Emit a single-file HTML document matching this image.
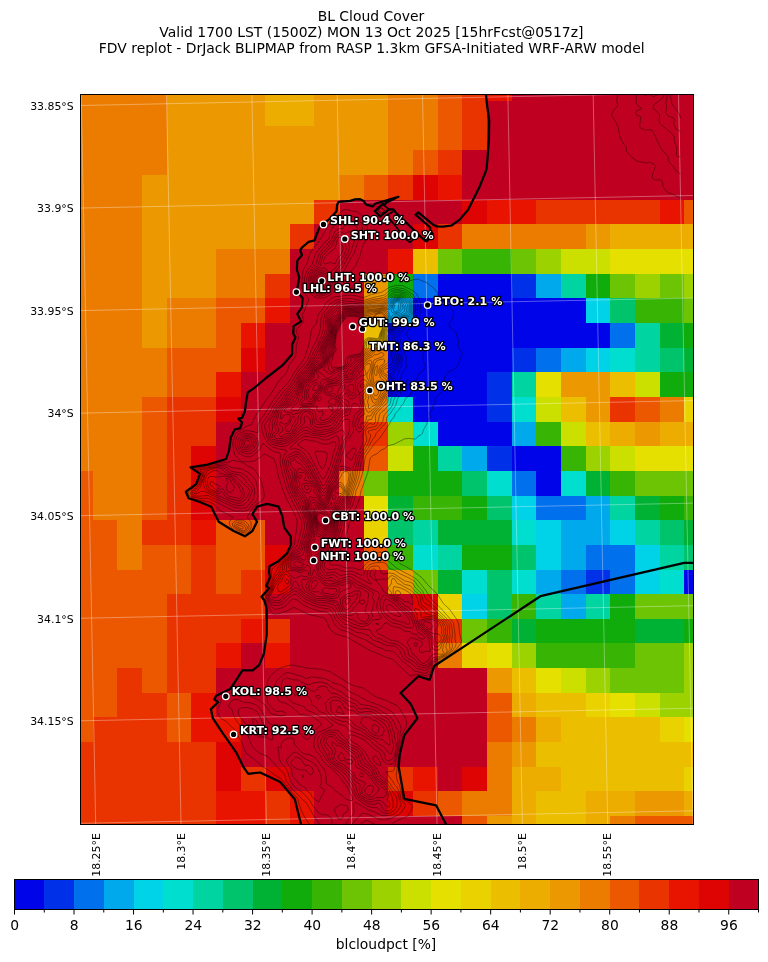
<!DOCTYPE html>
<html><head><meta charset="utf-8"><title>BL Cloud Cover</title>
<style>
html,body{margin:0;padding:0;background:#fff}
body{width:768px;height:962px;overflow:hidden;font-family:"DejaVu Sans","Liberation Sans",sans-serif}
svg{display:block}
text{font-family:"DejaVu Sans","Liberation Sans",sans-serif;fill:#000}
.t{font-size:13.93px;text-anchor:middle}
.yl{font-size:10.9px;text-anchor:end}
.xl{font-size:10.9px;text-anchor:end}
.cb{font-size:13.89px;text-anchor:middle}
.st{font-size:11.11px;font-weight:bold;fill:#fff;stroke:#000;stroke-width:2.6px;paint-order:stroke fill;stroke-linejoin:round}
</style></head><body>
<svg width="768" height="962" viewBox="0 0 768 962">
<rect width="768" height="962" fill="#fff"/>
<defs><clipPath id="ax"><rect x="81" y="95" width="612" height="729"/></clipPath></defs>

<g clip-path="url(#ax)"><g shape-rendering="crispEdges">
<rect x="68" y="76" width="99" height="25" fill="#ec7c00"/>
<rect x="167" y="76" width="98" height="25" fill="#ec9800"/>
<rect x="265" y="76" width="49" height="25" fill="#ecac00"/>
<rect x="314" y="76" width="74" height="25" fill="#ec9800"/>
<rect x="388" y="76" width="50" height="25" fill="#ec7c00"/>
<rect x="438" y="76" width="24" height="25" fill="#ec5800"/>
<rect x="462" y="76" width="25" height="25" fill="#ea3400"/>
<rect x="487" y="76" width="25" height="25" fill="#e81400"/>
<rect x="512" y="76" width="197" height="25" fill="#c00020"/>
<rect x="68" y="101" width="99" height="25" fill="#ec7c00"/>
<rect x="167" y="101" width="98" height="25" fill="#ec9800"/>
<rect x="265" y="101" width="49" height="25" fill="#ecac00"/>
<rect x="314" y="101" width="74" height="25" fill="#ec9800"/>
<rect x="388" y="101" width="50" height="25" fill="#ec7c00"/>
<rect x="438" y="101" width="24" height="25" fill="#ec5800"/>
<rect x="462" y="101" width="25" height="25" fill="#ea3400"/>
<rect x="487" y="101" width="222" height="25" fill="#c00020"/>
<rect x="68" y="126" width="99" height="24" fill="#ec7c00"/>
<rect x="167" y="126" width="221" height="24" fill="#ec9800"/>
<rect x="388" y="126" width="50" height="24" fill="#ec7c00"/>
<rect x="438" y="126" width="24" height="24" fill="#ec5800"/>
<rect x="462" y="126" width="25" height="24" fill="#ea3400"/>
<rect x="487" y="126" width="222" height="24" fill="#c00020"/>
<rect x="68" y="150" width="99" height="25" fill="#ec7c00"/>
<rect x="167" y="150" width="221" height="25" fill="#ec9800"/>
<rect x="388" y="150" width="25" height="25" fill="#ec7c00"/>
<rect x="413" y="150" width="25" height="25" fill="#ec5800"/>
<rect x="438" y="150" width="24" height="25" fill="#ea3400"/>
<rect x="462" y="150" width="247" height="25" fill="#c00020"/>
<rect x="68" y="175" width="74" height="25" fill="#ec7c00"/>
<rect x="142" y="175" width="197" height="25" fill="#ec9800"/>
<rect x="339" y="175" width="25" height="25" fill="#ec7c00"/>
<rect x="364" y="175" width="24" height="25" fill="#ec5800"/>
<rect x="388" y="175" width="25" height="25" fill="#ea3400"/>
<rect x="413" y="175" width="25" height="25" fill="#de0404"/>
<rect x="438" y="175" width="24" height="25" fill="#e81400"/>
<rect x="462" y="175" width="247" height="25" fill="#c00020"/>
<rect x="68" y="200" width="74" height="24" fill="#ec7c00"/>
<rect x="142" y="200" width="172" height="24" fill="#ec9800"/>
<rect x="314" y="200" width="25" height="24" fill="#ea3400"/>
<rect x="339" y="200" width="123" height="24" fill="#c00020"/>
<rect x="462" y="200" width="25" height="24" fill="#de0404"/>
<rect x="487" y="200" width="49" height="24" fill="#e81400"/>
<rect x="536" y="200" width="124" height="24" fill="#ea3400"/>
<rect x="660" y="200" width="24" height="24" fill="#e81400"/>
<rect x="684" y="200" width="25" height="24" fill="#ec5800"/>
<rect x="68" y="224" width="74" height="25" fill="#ec7c00"/>
<rect x="142" y="224" width="148" height="25" fill="#ec9800"/>
<rect x="290" y="224" width="24" height="25" fill="#ea3400"/>
<rect x="314" y="224" width="99" height="25" fill="#c00020"/>
<rect x="413" y="224" width="25" height="25" fill="#de0404"/>
<rect x="438" y="224" width="24" height="25" fill="#ea3400"/>
<rect x="462" y="224" width="124" height="25" fill="#ec7c00"/>
<rect x="586" y="224" width="24" height="25" fill="#ec9800"/>
<rect x="610" y="224" width="99" height="25" fill="#ecac00"/>
<rect x="68" y="249" width="74" height="25" fill="#ec7c00"/>
<rect x="142" y="249" width="74" height="25" fill="#ec9800"/>
<rect x="216" y="249" width="74" height="25" fill="#ec7c00"/>
<rect x="290" y="249" width="98" height="25" fill="#c00020"/>
<rect x="388" y="249" width="25" height="25" fill="#e81400"/>
<rect x="413" y="249" width="25" height="25" fill="#ecbe00"/>
<rect x="438" y="249" width="24" height="25" fill="#6cc404"/>
<rect x="462" y="249" width="50" height="25" fill="#38b404"/>
<rect x="512" y="249" width="24" height="25" fill="#6cc404"/>
<rect x="536" y="249" width="25" height="25" fill="#9cd200"/>
<rect x="561" y="249" width="49" height="25" fill="#cce000"/>
<rect x="610" y="249" width="99" height="25" fill="#e6e000"/>
<rect x="68" y="274" width="74" height="24" fill="#ec7c00"/>
<rect x="142" y="274" width="74" height="24" fill="#ec9800"/>
<rect x="216" y="274" width="49" height="24" fill="#ec7c00"/>
<rect x="265" y="274" width="25" height="24" fill="#ea3400"/>
<rect x="290" y="274" width="74" height="24" fill="#c00020"/>
<rect x="364" y="274" width="24" height="24" fill="#ec9800"/>
<rect x="388" y="274" width="25" height="24" fill="#10ac0c"/>
<rect x="413" y="274" width="25" height="24" fill="#0070ec"/>
<rect x="438" y="274" width="74" height="24" fill="#0004e8"/>
<rect x="512" y="274" width="24" height="24" fill="#0030e8"/>
<rect x="536" y="274" width="25" height="24" fill="#00a8ec"/>
<rect x="561" y="274" width="25" height="24" fill="#00d4a0"/>
<rect x="586" y="274" width="24" height="24" fill="#10ac0c"/>
<rect x="610" y="274" width="25" height="24" fill="#6cc404"/>
<rect x="635" y="274" width="25" height="24" fill="#9cd200"/>
<rect x="660" y="274" width="24" height="24" fill="#6cc404"/>
<rect x="684" y="274" width="25" height="24" fill="#9cd200"/>
<rect x="68" y="298" width="74" height="25" fill="#ec7c00"/>
<rect x="142" y="298" width="25" height="25" fill="#ec9800"/>
<rect x="167" y="298" width="49" height="25" fill="#ec7c00"/>
<rect x="216" y="298" width="49" height="25" fill="#ec5800"/>
<rect x="265" y="298" width="25" height="25" fill="#e81400"/>
<rect x="290" y="298" width="74" height="25" fill="#c00020"/>
<rect x="364" y="298" width="24" height="25" fill="#ec7c00"/>
<rect x="388" y="298" width="25" height="25" fill="#00a8ec"/>
<rect x="413" y="298" width="173" height="25" fill="#0004e8"/>
<rect x="586" y="298" width="24" height="25" fill="#00d2e8"/>
<rect x="610" y="298" width="25" height="25" fill="#00c46c"/>
<rect x="635" y="298" width="49" height="25" fill="#38b404"/>
<rect x="684" y="298" width="25" height="25" fill="#6cc404"/>
<rect x="68" y="323" width="74" height="25" fill="#ec7c00"/>
<rect x="142" y="323" width="25" height="25" fill="#ec9800"/>
<rect x="167" y="323" width="49" height="25" fill="#ec7c00"/>
<rect x="216" y="323" width="25" height="25" fill="#ec5800"/>
<rect x="241" y="323" width="24" height="25" fill="#e81400"/>
<rect x="265" y="323" width="99" height="25" fill="#c00020"/>
<rect x="364" y="323" width="24" height="25" fill="#ecbe00"/>
<rect x="388" y="323" width="222" height="25" fill="#0004e8"/>
<rect x="610" y="323" width="25" height="25" fill="#0070ec"/>
<rect x="635" y="323" width="25" height="25" fill="#00d4a0"/>
<rect x="660" y="323" width="24" height="25" fill="#00b234"/>
<rect x="684" y="323" width="25" height="25" fill="#10ac0c"/>
<rect x="68" y="348" width="99" height="24" fill="#ec7c00"/>
<rect x="167" y="348" width="74" height="24" fill="#ec5800"/>
<rect x="241" y="348" width="24" height="24" fill="#de0404"/>
<rect x="265" y="348" width="99" height="24" fill="#c00020"/>
<rect x="364" y="348" width="24" height="24" fill="#ec7c00"/>
<rect x="388" y="348" width="124" height="24" fill="#0004e8"/>
<rect x="512" y="348" width="24" height="24" fill="#0030e8"/>
<rect x="536" y="348" width="25" height="24" fill="#0070ec"/>
<rect x="561" y="348" width="25" height="24" fill="#00a8ec"/>
<rect x="586" y="348" width="24" height="24" fill="#00d2e8"/>
<rect x="610" y="348" width="25" height="24" fill="#00ded0"/>
<rect x="635" y="348" width="25" height="24" fill="#00d4a0"/>
<rect x="660" y="348" width="24" height="24" fill="#00c46c"/>
<rect x="684" y="348" width="25" height="24" fill="#00b234"/>
<rect x="68" y="372" width="99" height="25" fill="#ec7c00"/>
<rect x="167" y="372" width="49" height="25" fill="#ec5800"/>
<rect x="216" y="372" width="25" height="25" fill="#e81400"/>
<rect x="241" y="372" width="123" height="25" fill="#c00020"/>
<rect x="364" y="372" width="24" height="25" fill="#ec7c00"/>
<rect x="388" y="372" width="99" height="25" fill="#0004e8"/>
<rect x="487" y="372" width="25" height="25" fill="#0030e8"/>
<rect x="512" y="372" width="24" height="25" fill="#00d4a0"/>
<rect x="536" y="372" width="25" height="25" fill="#e6e000"/>
<rect x="561" y="372" width="49" height="25" fill="#ec9800"/>
<rect x="610" y="372" width="25" height="25" fill="#ecbe00"/>
<rect x="635" y="372" width="25" height="25" fill="#cce000"/>
<rect x="660" y="372" width="49" height="25" fill="#10ac0c"/>
<rect x="68" y="397" width="74" height="25" fill="#ec7c00"/>
<rect x="142" y="397" width="25" height="25" fill="#ec5800"/>
<rect x="167" y="397" width="49" height="25" fill="#ea3400"/>
<rect x="216" y="397" width="25" height="25" fill="#de0404"/>
<rect x="241" y="397" width="123" height="25" fill="#c00020"/>
<rect x="364" y="397" width="24" height="25" fill="#ec7c00"/>
<rect x="388" y="397" width="25" height="25" fill="#00ded0"/>
<rect x="413" y="397" width="74" height="25" fill="#0004e8"/>
<rect x="487" y="397" width="25" height="25" fill="#0030e8"/>
<rect x="512" y="397" width="24" height="25" fill="#00ded0"/>
<rect x="536" y="397" width="25" height="25" fill="#cce000"/>
<rect x="561" y="397" width="25" height="25" fill="#ecbe00"/>
<rect x="586" y="397" width="24" height="25" fill="#ec9800"/>
<rect x="610" y="397" width="25" height="25" fill="#ea3400"/>
<rect x="635" y="397" width="25" height="25" fill="#ec5800"/>
<rect x="660" y="397" width="24" height="25" fill="#ec7c00"/>
<rect x="684" y="397" width="25" height="25" fill="#ead200"/>
<rect x="68" y="422" width="74" height="24" fill="#ec7c00"/>
<rect x="142" y="422" width="25" height="24" fill="#ec5800"/>
<rect x="167" y="422" width="49" height="24" fill="#ea3400"/>
<rect x="216" y="422" width="148" height="24" fill="#c00020"/>
<rect x="364" y="422" width="24" height="24" fill="#ea3400"/>
<rect x="388" y="422" width="25" height="24" fill="#9cd200"/>
<rect x="413" y="422" width="25" height="24" fill="#00ded0"/>
<rect x="438" y="422" width="74" height="24" fill="#0004e8"/>
<rect x="512" y="422" width="24" height="24" fill="#00a8ec"/>
<rect x="536" y="422" width="25" height="24" fill="#38b404"/>
<rect x="561" y="422" width="25" height="24" fill="#cce000"/>
<rect x="586" y="422" width="24" height="24" fill="#ecbe00"/>
<rect x="610" y="422" width="25" height="24" fill="#ecac00"/>
<rect x="635" y="422" width="25" height="24" fill="#ec9800"/>
<rect x="660" y="422" width="49" height="24" fill="#ecac00"/>
<rect x="68" y="446" width="74" height="25" fill="#ec7c00"/>
<rect x="142" y="446" width="25" height="25" fill="#ec5800"/>
<rect x="167" y="446" width="24" height="25" fill="#ea3400"/>
<rect x="191" y="446" width="25" height="25" fill="#de0404"/>
<rect x="216" y="446" width="148" height="25" fill="#c00020"/>
<rect x="364" y="446" width="24" height="25" fill="#ec5800"/>
<rect x="388" y="446" width="25" height="25" fill="#cce000"/>
<rect x="413" y="446" width="25" height="25" fill="#10ac0c"/>
<rect x="438" y="446" width="24" height="25" fill="#00d4a0"/>
<rect x="462" y="446" width="25" height="25" fill="#00a8ec"/>
<rect x="487" y="446" width="25" height="25" fill="#0030e8"/>
<rect x="512" y="446" width="49" height="25" fill="#0004e8"/>
<rect x="561" y="446" width="25" height="25" fill="#38b404"/>
<rect x="586" y="446" width="24" height="25" fill="#9cd200"/>
<rect x="610" y="446" width="25" height="25" fill="#cce000"/>
<rect x="635" y="446" width="74" height="25" fill="#e6e000"/>
<rect x="68" y="471" width="25" height="25" fill="#ec5800"/>
<rect x="93" y="471" width="49" height="25" fill="#ec7c00"/>
<rect x="142" y="471" width="25" height="25" fill="#ec5800"/>
<rect x="167" y="471" width="24" height="25" fill="#ea3400"/>
<rect x="191" y="471" width="25" height="25" fill="#de0404"/>
<rect x="216" y="471" width="123" height="25" fill="#c00020"/>
<rect x="339" y="471" width="25" height="25" fill="#ec7c00"/>
<rect x="364" y="471" width="24" height="25" fill="#6cc404"/>
<rect x="388" y="471" width="74" height="25" fill="#10ac0c"/>
<rect x="462" y="471" width="25" height="25" fill="#00c46c"/>
<rect x="487" y="471" width="25" height="25" fill="#00ded0"/>
<rect x="512" y="471" width="24" height="25" fill="#0070ec"/>
<rect x="536" y="471" width="25" height="25" fill="#0004e8"/>
<rect x="561" y="471" width="25" height="25" fill="#00ded0"/>
<rect x="586" y="471" width="24" height="25" fill="#00b234"/>
<rect x="610" y="471" width="25" height="25" fill="#38b404"/>
<rect x="635" y="471" width="74" height="25" fill="#6cc404"/>
<rect x="68" y="496" width="25" height="24" fill="#ec5800"/>
<rect x="93" y="496" width="49" height="24" fill="#ec7c00"/>
<rect x="142" y="496" width="25" height="24" fill="#ec5800"/>
<rect x="167" y="496" width="24" height="24" fill="#ea3400"/>
<rect x="191" y="496" width="25" height="24" fill="#de0404"/>
<rect x="216" y="496" width="148" height="24" fill="#c00020"/>
<rect x="364" y="496" width="24" height="24" fill="#e6e000"/>
<rect x="388" y="496" width="25" height="24" fill="#00b234"/>
<rect x="413" y="496" width="49" height="24" fill="#38b404"/>
<rect x="462" y="496" width="25" height="24" fill="#10ac0c"/>
<rect x="487" y="496" width="25" height="24" fill="#00c46c"/>
<rect x="512" y="496" width="24" height="24" fill="#00d2e8"/>
<rect x="536" y="496" width="50" height="24" fill="#0070ec"/>
<rect x="586" y="496" width="24" height="24" fill="#00a8ec"/>
<rect x="610" y="496" width="25" height="24" fill="#00d4a0"/>
<rect x="635" y="496" width="25" height="24" fill="#00b234"/>
<rect x="660" y="496" width="24" height="24" fill="#10ac0c"/>
<rect x="684" y="496" width="25" height="24" fill="#38b404"/>
<rect x="68" y="520" width="49" height="25" fill="#ec5800"/>
<rect x="117" y="520" width="25" height="25" fill="#ec7c00"/>
<rect x="142" y="520" width="49" height="25" fill="#ea3400"/>
<rect x="191" y="520" width="25" height="25" fill="#e81400"/>
<rect x="216" y="520" width="49" height="25" fill="#ec5800"/>
<rect x="265" y="520" width="99" height="25" fill="#c00020"/>
<rect x="364" y="520" width="24" height="25" fill="#ead200"/>
<rect x="388" y="520" width="25" height="25" fill="#00c46c"/>
<rect x="413" y="520" width="25" height="25" fill="#00d4a0"/>
<rect x="438" y="520" width="74" height="25" fill="#00b234"/>
<rect x="512" y="520" width="24" height="25" fill="#00ded0"/>
<rect x="536" y="520" width="25" height="25" fill="#00d2e8"/>
<rect x="561" y="520" width="49" height="25" fill="#00a8ec"/>
<rect x="610" y="520" width="25" height="25" fill="#00d2e8"/>
<rect x="635" y="520" width="25" height="25" fill="#00d4a0"/>
<rect x="660" y="520" width="24" height="25" fill="#00c46c"/>
<rect x="684" y="520" width="25" height="25" fill="#00b234"/>
<rect x="68" y="545" width="49" height="25" fill="#ec5800"/>
<rect x="117" y="545" width="25" height="25" fill="#ec7c00"/>
<rect x="142" y="545" width="49" height="25" fill="#ec5800"/>
<rect x="191" y="545" width="25" height="25" fill="#ea3400"/>
<rect x="216" y="545" width="49" height="25" fill="#ec5800"/>
<rect x="265" y="545" width="25" height="25" fill="#de0404"/>
<rect x="290" y="545" width="74" height="25" fill="#c00020"/>
<rect x="364" y="545" width="24" height="25" fill="#ec5800"/>
<rect x="388" y="545" width="25" height="25" fill="#38b404"/>
<rect x="413" y="545" width="25" height="25" fill="#00ded0"/>
<rect x="438" y="545" width="24" height="25" fill="#00d4a0"/>
<rect x="462" y="545" width="50" height="25" fill="#10ac0c"/>
<rect x="512" y="545" width="24" height="25" fill="#00c46c"/>
<rect x="536" y="545" width="25" height="25" fill="#00d2e8"/>
<rect x="561" y="545" width="25" height="25" fill="#00a8ec"/>
<rect x="586" y="545" width="49" height="25" fill="#0070ec"/>
<rect x="635" y="545" width="25" height="25" fill="#00d2e8"/>
<rect x="660" y="545" width="24" height="25" fill="#00d4a0"/>
<rect x="684" y="545" width="25" height="25" fill="#00c46c"/>
<rect x="68" y="570" width="123" height="24" fill="#ec5800"/>
<rect x="191" y="570" width="25" height="24" fill="#ea3400"/>
<rect x="216" y="570" width="25" height="24" fill="#ec5800"/>
<rect x="241" y="570" width="24" height="24" fill="#ea3400"/>
<rect x="265" y="570" width="25" height="24" fill="#de0404"/>
<rect x="290" y="570" width="98" height="24" fill="#c00020"/>
<rect x="388" y="570" width="25" height="24" fill="#ec9800"/>
<rect x="413" y="570" width="25" height="24" fill="#6cc404"/>
<rect x="438" y="570" width="24" height="24" fill="#00b234"/>
<rect x="462" y="570" width="25" height="24" fill="#00ded0"/>
<rect x="487" y="570" width="25" height="24" fill="#00c46c"/>
<rect x="512" y="570" width="24" height="24" fill="#00ded0"/>
<rect x="536" y="570" width="25" height="24" fill="#00a8ec"/>
<rect x="561" y="570" width="25" height="24" fill="#0070ec"/>
<rect x="586" y="570" width="24" height="24" fill="#0030e8"/>
<rect x="610" y="570" width="25" height="24" fill="#0070ec"/>
<rect x="635" y="570" width="25" height="24" fill="#00d2e8"/>
<rect x="660" y="570" width="24" height="24" fill="#00ded0"/>
<rect x="684" y="570" width="25" height="24" fill="#0004e8"/>
<rect x="68" y="594" width="99" height="25" fill="#ec5800"/>
<rect x="167" y="594" width="98" height="25" fill="#ea3400"/>
<rect x="265" y="594" width="148" height="25" fill="#c00020"/>
<rect x="413" y="594" width="25" height="25" fill="#de0404"/>
<rect x="438" y="594" width="24" height="25" fill="#ead200"/>
<rect x="462" y="594" width="25" height="25" fill="#00d2e8"/>
<rect x="487" y="594" width="25" height="25" fill="#00c46c"/>
<rect x="512" y="594" width="24" height="25" fill="#38b404"/>
<rect x="536" y="594" width="25" height="25" fill="#00d4a0"/>
<rect x="561" y="594" width="25" height="25" fill="#00a8ec"/>
<rect x="586" y="594" width="24" height="25" fill="#00d4a0"/>
<rect x="610" y="594" width="25" height="25" fill="#10ac0c"/>
<rect x="635" y="594" width="74" height="25" fill="#6cc404"/>
<rect x="68" y="619" width="99" height="24" fill="#ec5800"/>
<rect x="167" y="619" width="74" height="24" fill="#ea3400"/>
<rect x="241" y="619" width="24" height="24" fill="#e81400"/>
<rect x="265" y="619" width="25" height="24" fill="#ea3400"/>
<rect x="290" y="619" width="148" height="24" fill="#c00020"/>
<rect x="438" y="619" width="24" height="24" fill="#ea3400"/>
<rect x="462" y="619" width="25" height="24" fill="#6cc404"/>
<rect x="487" y="619" width="25" height="24" fill="#38b404"/>
<rect x="512" y="619" width="24" height="24" fill="#00b234"/>
<rect x="536" y="619" width="99" height="24" fill="#10ac0c"/>
<rect x="635" y="619" width="49" height="24" fill="#00b234"/>
<rect x="684" y="619" width="25" height="24" fill="#10ac0c"/>
<rect x="68" y="643" width="99" height="25" fill="#ec5800"/>
<rect x="167" y="643" width="49" height="25" fill="#ea3400"/>
<rect x="216" y="643" width="25" height="25" fill="#e81400"/>
<rect x="241" y="643" width="24" height="25" fill="#c00020"/>
<rect x="265" y="643" width="25" height="25" fill="#e81400"/>
<rect x="290" y="643" width="148" height="25" fill="#c00020"/>
<rect x="438" y="643" width="24" height="25" fill="#ec7c00"/>
<rect x="462" y="643" width="25" height="25" fill="#ead200"/>
<rect x="487" y="643" width="25" height="25" fill="#e6e000"/>
<rect x="512" y="643" width="24" height="25" fill="#9cd200"/>
<rect x="536" y="643" width="99" height="25" fill="#38b404"/>
<rect x="635" y="643" width="49" height="25" fill="#6cc404"/>
<rect x="684" y="643" width="25" height="25" fill="#9cd200"/>
<rect x="68" y="668" width="49" height="25" fill="#ec5800"/>
<rect x="117" y="668" width="25" height="25" fill="#ea3400"/>
<rect x="142" y="668" width="25" height="25" fill="#ec5800"/>
<rect x="167" y="668" width="49" height="25" fill="#ea3400"/>
<rect x="216" y="668" width="271" height="25" fill="#c00020"/>
<rect x="487" y="668" width="25" height="25" fill="#ec9800"/>
<rect x="512" y="668" width="24" height="25" fill="#ecbe00"/>
<rect x="536" y="668" width="25" height="25" fill="#e6e000"/>
<rect x="561" y="668" width="25" height="25" fill="#cce000"/>
<rect x="586" y="668" width="24" height="25" fill="#9cd200"/>
<rect x="610" y="668" width="74" height="25" fill="#6cc404"/>
<rect x="684" y="668" width="25" height="25" fill="#9cd200"/>
<rect x="68" y="693" width="49" height="24" fill="#ec5800"/>
<rect x="117" y="693" width="50" height="24" fill="#ea3400"/>
<rect x="167" y="693" width="24" height="24" fill="#ec5800"/>
<rect x="191" y="693" width="25" height="24" fill="#e81400"/>
<rect x="216" y="693" width="271" height="24" fill="#c00020"/>
<rect x="487" y="693" width="25" height="24" fill="#ec5800"/>
<rect x="512" y="693" width="24" height="24" fill="#ecac00"/>
<rect x="536" y="693" width="50" height="24" fill="#ecbe00"/>
<rect x="586" y="693" width="24" height="24" fill="#ead200"/>
<rect x="610" y="693" width="25" height="24" fill="#e6e000"/>
<rect x="635" y="693" width="25" height="24" fill="#cce000"/>
<rect x="660" y="693" width="49" height="24" fill="#9cd200"/>
<rect x="68" y="717" width="25" height="25" fill="#ec5800"/>
<rect x="93" y="717" width="74" height="25" fill="#ea3400"/>
<rect x="167" y="717" width="24" height="25" fill="#ec5800"/>
<rect x="191" y="717" width="50" height="25" fill="#e81400"/>
<rect x="241" y="717" width="246" height="25" fill="#c00020"/>
<rect x="487" y="717" width="25" height="25" fill="#ec5800"/>
<rect x="512" y="717" width="24" height="25" fill="#ec7c00"/>
<rect x="536" y="717" width="25" height="25" fill="#ecac00"/>
<rect x="561" y="717" width="99" height="25" fill="#ecbe00"/>
<rect x="660" y="717" width="24" height="25" fill="#ead200"/>
<rect x="684" y="717" width="25" height="25" fill="#e6e000"/>
<rect x="68" y="742" width="148" height="25" fill="#ea3400"/>
<rect x="216" y="742" width="25" height="25" fill="#de0404"/>
<rect x="241" y="742" width="246" height="25" fill="#c00020"/>
<rect x="487" y="742" width="25" height="25" fill="#ec7c00"/>
<rect x="512" y="742" width="24" height="25" fill="#ec9800"/>
<rect x="536" y="742" width="173" height="25" fill="#ecbe00"/>
<rect x="68" y="767" width="148" height="24" fill="#ea3400"/>
<rect x="216" y="767" width="25" height="24" fill="#de0404"/>
<rect x="241" y="767" width="24" height="24" fill="#ea3400"/>
<rect x="265" y="767" width="25" height="24" fill="#de0404"/>
<rect x="290" y="767" width="98" height="24" fill="#c00020"/>
<rect x="388" y="767" width="25" height="24" fill="#ea3400"/>
<rect x="413" y="767" width="25" height="24" fill="#e81400"/>
<rect x="438" y="767" width="24" height="24" fill="#c00020"/>
<rect x="462" y="767" width="25" height="24" fill="#de0404"/>
<rect x="487" y="767" width="25" height="24" fill="#ec7c00"/>
<rect x="512" y="767" width="49" height="24" fill="#ecac00"/>
<rect x="561" y="767" width="123" height="24" fill="#ecbe00"/>
<rect x="684" y="767" width="25" height="24" fill="#ead200"/>
<rect x="68" y="791" width="148" height="25" fill="#ea3400"/>
<rect x="216" y="791" width="49" height="25" fill="#e81400"/>
<rect x="265" y="791" width="25" height="25" fill="#ea3400"/>
<rect x="290" y="791" width="24" height="25" fill="#e81400"/>
<rect x="314" y="791" width="74" height="25" fill="#c00020"/>
<rect x="388" y="791" width="25" height="25" fill="#de0404"/>
<rect x="413" y="791" width="25" height="25" fill="#ea3400"/>
<rect x="438" y="791" width="24" height="25" fill="#ec5800"/>
<rect x="462" y="791" width="50" height="25" fill="#ec7c00"/>
<rect x="512" y="791" width="24" height="25" fill="#ecac00"/>
<rect x="536" y="791" width="50" height="25" fill="#ecbe00"/>
<rect x="586" y="791" width="49" height="25" fill="#ecac00"/>
<rect x="635" y="791" width="49" height="25" fill="#ec9800"/>
<rect x="684" y="791" width="25" height="25" fill="#ecac00"/>
<rect x="68" y="816" width="148" height="25" fill="#ea3400"/>
<rect x="216" y="816" width="49" height="25" fill="#e81400"/>
<rect x="265" y="816" width="25" height="25" fill="#ea3400"/>
<rect x="290" y="816" width="24" height="25" fill="#e81400"/>
<rect x="314" y="816" width="148" height="25" fill="#c00020"/>
<rect x="462" y="816" width="25" height="25" fill="#ec5800"/>
<rect x="487" y="816" width="25" height="25" fill="#ec9800"/>
<rect x="512" y="816" width="24" height="25" fill="#ecac00"/>
<rect x="536" y="816" width="50" height="25" fill="#ecbe00"/>
<rect x="586" y="816" width="24" height="25" fill="#ecac00"/>
<rect x="610" y="816" width="25" height="25" fill="#ec7c00"/>
<rect x="635" y="816" width="74" height="25" fill="#ec5800"/>
</g>
<g stroke="#fff" stroke-opacity="0.45" stroke-width="0.75" fill="none">
<line x1="81.20" y1="94.5" x2="95.70" y2="824.5"/>
<line x1="166.53" y1="94.5" x2="181.04" y2="824.5"/>
<line x1="251.86" y1="94.5" x2="266.38" y2="824.5"/>
<line x1="337.19" y1="94.5" x2="351.72" y2="824.5"/>
<line x1="422.52" y1="94.5" x2="437.06" y2="824.5"/>
<line x1="507.85" y1="94.5" x2="522.40" y2="824.5"/>
<line x1="593.18" y1="94.5" x2="607.74" y2="824.5"/>
<line x1="678.51" y1="94.5" x2="693.08" y2="824.5"/>
<line x1="80.5" y1="105.50" x2="693.5" y2="92.93"/>
<line x1="80.5" y1="208.05" x2="693.5" y2="195.48"/>
<line x1="80.5" y1="310.60" x2="693.5" y2="298.03"/>
<line x1="80.5" y1="413.15" x2="693.5" y2="400.58"/>
<line x1="80.5" y1="515.70" x2="693.5" y2="503.13"/>
<line x1="80.5" y1="618.25" x2="693.5" y2="605.68"/>
<line x1="80.5" y1="720.80" x2="693.5" y2="708.23"/>
<line x1="80.5" y1="823.35" x2="693.5" y2="810.78"/>
<line x1="80.5" y1="925.90" x2="693.5" y2="913.33"/>
</g>
<path fill="none" stroke="#000" stroke-opacity="0.7" stroke-width="0.55" d="M680.5 197.5l-4.5-1.3 -3-2.2 -4.5-1.1 -1.1-.9 -3.4-3.3 -1-2.7 -.5-4.3 -1.5-1.3 -1.5-.6 -4.5 .1 -2.4-1.4 -.3-1.5 1-6 2.4-4.5 -.7-1.5 -4.5-2.7 -4.5 .6 -9-1.8 -5-3.6 -5.4-6 -.4-1.5 .4-3 -3.1-3 -2-3 -2-6 -1.2-7.5 -2.8-6 -3.8-6 .1-1.5 1.2-2.7 1.5-2.5 2.7-2.3 .5-1.5 -1-4.5 .7-6 -3.5-4.5M427.0 676.2l-4.5-1.2 -6-.4 -6 1.3 -1.5-.9 -13.5-13.2 -3-2.3 -2-1 -4-.9 -16.5-7.2 -22.4-12.9 -12.1-3.7 -4.7-3.8 -1.9-3 -2.4-6.1 -1.5-2 -1.5-1.1 -13.5-3.2 -6-2.1 -9-4.8 -1.5-.2 -7.5 3.8 -7.5 2.5 -4.5 .1 -1.5-.4 -1.2-1.5 -1.8-3.9 -1.7-2.1 -1.3-4.5 -3.1-4.5 4.6-6 .1-1.5 1.4-1.5 -1-1.5 -.1-3 3.2-6 -.5-4.5 1.3-4.5 7.6-5.9 9-9.6 .9-2.5 3.8-4.5 .7-1.5 2.5-18 .2-6 -3.6-8.6 -7.3-13.9 -3.6-9 -4-12 -2-10.5 -2.6-7.7 -9-4.7 -1.5 .2 -3 2.6 -6 3.9 -4.5 .9 -7.5 0 -3-1.8 -4.5-4.7 -2-8.2 -.2-4.5 .7-1.5 .7-4.5 1.5-3 3.8-2.7 1.5-.4 4.5-3.7 6.2-2.2 1.7-4.5 3.3-6 9.1-13.5 5.2-6.5 6.8-11.5 4.9-6 1.9-1.5 2.9-4.5 1.8-6 5.8-7.5 .9-3 .4-9 2.3-7.5 -2.4-6 .1-1.5 6.5-7.5 .5-3 -1.1-4.5 3-6 1.7-5.6 1.7-3.4 -1-3 -5-6 -1.2-3 1.6-18 4.2-7.5 2.1-7.5 1.3-3 4.2-6 3.3-3 10.4-18 2.4-3 4.5-4 1.5-2.3 1.8-1.2 2.7-3.5 3-1.3 3-.1 4.5 1.4 4.5 .5 4.5 2.7 5.2 6.3 2.1 12 -.8 4.5 -5.4 10.5 -2.1 9 -2.5 4.5 -1.5 4.5 -7 7.8 -5.2 8.7 -.1 6 6.8 .4 1.2-.4 3.3-4.1 6-4.2 4.5 1.9 4.5 .1 3 1.4 1.5 .1 2.2-1.2 3.8-5.8 1.5-1.1 4.5 .2 6-1.1 9 2.4 3 2.7 3 1.6 1.5 .1 6-1.6 3-.3 9 3.7 7.5 6.2 2.6 3.5 1.9 4.7 9 7.2 5 6.1 .6 1.5 -.7 6 -.6 1.5 -2.8 3.6 -.5 2.4 .5 1.6 3 1.8 3.7 4.1 .8 3.5 1.7 4 -.5 4.5 .3 1.5 1.4 3 2.2 3 .1 1.5 -2.5 6 -.5 3 -2.2 3.5 -1.5 1.9 -7.5 4.1 -3 3.8 -.4 1.7 0 6 -2.6 3 -1.1 6 -5.5 4.5 -.6 3 .6 3 -2.4 2.4 -.8 3.6 -2.3 3 -.3 1.5 1 3 -2.8 3 -1.2 4.5 -2.7 4.5 -1.6 4.5 -1.3 1.3 -3 1.5 -1.5 2 -1.5 .9 -6-.8 -4.5 .5 -10.5 5.4 -6 1.3 -3.3 2.9 -4.2 2 -3 3 -5.3 2.5 -1.5 1.5 -.7 1.7 -2.2 13.3 -7.1 19.5 -1 6 -3.4 9 -5.3 10.5 -5.7 21 -4.4 10.5 -3.9 7.5 0 1.9 1.5 1.4 21 2.1 1.5-.7 7.5-6.1 6-2.7 6-.2 10.5 3 1.9 1.3 7.1 7.2 6 2.9 7.5 4.7 8.2 6.2 6.2 7.5 9.3 9 6.3 9.7 6 5.5 7.3 10.3 1.3 3 1 4.5 .3 6 2 7.5 -.7 3 -4.5 6 -2.1 1.5 -1.6 2.3 -1.6 .7 -2.9 3 -1.5 0 -1.5 1.5 -1.5 0 -3 2.8 -1.8 .2 -2.7 2.2 -3 1.6 -2.4 6.7 -2.1 3 -1.5 1.2zM323.7 468.0l2.4-6 1.1-6 -.2-3 -2-1.1 -9-.8 -.6 1.9 .2 1.5 3.4 9.8 3 4.9 1.5-.6 .2-.6zM245.5 534.9l-1.5 .3 -1.5-1.2 -1.5 0 -1.5-1.4 -1.5 0 -1.5-1.5 -1.5-.2 -4.5-4.2 -1-1.7 -.1-3 1.1-2 2.6-2.5 -13.1-7.1 -6.4-6.4 -4.1-2 -15-2.9 -4.5-2.6 -1-1.5 -.5-3 1.5-2 2.1-1 5.4-5.8 .1-1.7 1.4-1.5 -.1-3 1.5-1.5 .1-1.5 -3-3 -1.5-.1 -1.1-1.4 2.6-2.5 7.5-.4 1.5-1.3 4.5-.2 1.5-1.1 3-.3 3-1.2 4.5-.7 4.5 .6 1.8-.4 2.7-1.7 1.5 0 9 2.1 6 4 4.5 1.8 3.7 4.3 4.8 9 2.7 12 -.1 3 -1.2 3 -3.9 3.3 -3 1.3 -2.6 2.9 -5.8 9 -.2 1.5 3.6 4.5 .2 6 -1.6 3 -4.1 3.9zM315.1 831.0l-8.1-10 -3-5 -3-6.2 -1.1-4.3 -1-1.5 -.9-4.3 -1.9-3.2 -6.2-6 -1.6-3 -7.7-9 -5.1-3 -7.5-5.7 -5.7-3.3 -4.9-4.5 -10.4-8 -1.8-2.5 -3.2-9 -3-4.5 -1.7-4.5 -2.3-3.8 -4.6-3.7 -4.4-4.9 -5-2.6 -1.3-1.5 -2.4-6 .7-3 3-6 0-3 6.5-4.8 9-3.3 3.6 2.1 6.9 1.6 5.2 2.9 6.8 2.4 6 5.2 2.4 2.9 2.6 4.5 2.1 1.5 7.9 1.8 4.5-.4 1.6-1.4 -1.1-1.5 -3.5-1.4 -4.5 .4 -1.5-.6 -3-2.5 -4.3-4.9 -.7-1.5 -1-7.5 .9-12 1.7-4.5 2.3-3 7.1-6.1 6-2.4 7.5-1.7 16.5 3.5 13.5 1.1 8.7 2.6 19.8 12.3 3 1.3 9 2.2 4.1 2.2 3.4 3 6 4 7.5 2.3 13.5 6.3 2.2 2.4 6.5 10.5 1 4.5 -.8 4.5 -3.5 6 -.4 1.5 .1 3 -1.2 3 .1 4.5 -1.3 3 -.3 4.5 -1.1 1.5 -.5 9 -1.6 12 1.3 6 1.9 3 1.2 6 1.6 3 .7 6 3.1 1.2 4.8 3.3 1.4 1.5 0 1.5 -1.5 4.5 -3.2 4.7 -13.5 5.8 -3 3 -3 2 -4.5 .7 -3-.4 -12-6.4 -3-.4 -4.5 2.9 -5.9 7.6M680.5 173.8l-1.5-.5 -3-2.5 -3-4.7 -3.9-4.1 -.8-1.5 0-3 -.6-1.5 -1-1.5 -3.5-3 -2.2-3.2 -8.6-17.8 -1.9-.6 -6 .1 -4.6-2.5 -.3-1.5 1.2-9 -.8-1 -3-.5 -1-1.5 -.1-1.5 1.1-2.1 3.7-.9 .8-1.5 -3-1.6 -2.2-2.9 -.2-6 .7-3 4.5-4.5M643.6 90.0l.8 1.5 -.5 3 2.1 1.3 .9-1.3 -.9-2 -1.4-1 .5-1.5M651.8 90.0l.2 3 -.6 1.5 .1 1.5 2 .6 7.5-3.2 1.1-1.9 0-1.5M325.0 297.6l-4.5 .7 -4.5-.7 -3.5-2.1 -5.5-6.2 -1.9-2.8 -.8-3 .2-4.5 1.4-6 1.6-3 4.9-6 3.2-10.5 8.5-10.5 5-4.5 .8-6 4.4-7.5 5.7-5.5 7.1-3.5 1.9-.2 6 1 4.4 3.7 2 3 1.2 6 -.1 3 -4.5 8.6 -3.9 12.4 -3.3 4.5 -5.3 10.5 -6.8 9 -1.3 7.5 -1.7 4.5 -1.7 2.2 -4.5 3.6 -4.5 2.3zM427.0 672.8l-1.5 .6 -10.5-2.1 -7.8-6.8 -4.7-3 -5.5-6.9 -3-2.6 -1.5-.8 -7.5-1 -3-1.8 -4.5-1.3 -12-7.2 -9-3.4 -9-4.8 -7.5-2 -5.9-5.7 -3.7-9 -2.4-2.6 -9-1.3 -6-1.9 -9-3.8 -7.5-5.8 -3-.8 -2.2 1.2 -5.3 5.8 -6 2.6 -3 .8 -3-.2 -3.3-3 -4.2-7.5 -1.3-1.5 4.9-7.5 .6-1.5 -.8-3 .3-1.5 2.7-4.5 1.3-4.5 2.1-3 1.8-4.5 9-10.5 3.4-3 1.5-2.7 4.9-4.8 2.6-8.2 2-9.8 .3-3 -.5-4.5 -4.3-10.5 -2.6-4.5 -7.7-16.5 -4.5-16.5 -2.1-10.5 .3-7.5 -.4-1.2 -7.5-2.2 -7.3-5.6 -1.7-1.9 -1.5 .6 -1.5 4.3 -2.6 3 -6.4 4.7 -1.5 .7 -3 0 -3-.9 -6-3.5 -2.4-5.5 -.5-3 1.1-6 1.4-3 1.9-1.5 6-2.8 7.5 .7 4.5 1.5 .6-.9 -.2-6 1.9-6 3.9-4.5 6.4-10.5 8.4-12.1 10.5-11.2 5.5-9.7 7.8-10.5 3.2-5.2 .7-3.8 2.2-6 2.2-10.5 .6-6 1.8-2.8 3.2-3.2 1.5-7.5 1.3-3 4.5-5.6 2.6-4.9 1.4-1.5 3.5-2.9 4.5-2.1 4.5-.1 6-1.2 9 .3 7.5 2.2 2.9-.7 6.1-2.5 10.5-2.3 7.5-5 7.5-2 6 .5 10.5 5.5 3.2 2.8 2.3 4.5 1.7 6 -1.7 18 -.8 1.5 -1.7 1.2 -4.5 1.3 -3 2.5 -1.5 1.8 -1.4 3.7 1.4 2.6 6 4.6 3 1.1 7.5 4.4 .4 2.3 -1.3 4.5 -.1 3 .5 4.5 1.7 3 .1 3 -1.3 2.1 -4.5 3.8 -1.8 3.1 -.9 3 -1.7 1.5 -3.1 1 -3-2 -1.5-.3 -1.2 1.3 0 1.5 1 1.5 4.7 2.9 .5 1.6 -.2 1.5 -2.1 4.5 -1.2 1.7 -3 1.7 -.8 1.1 -1.7 4.5 -2 2 -2.4 4 -3.6 3.6 -1.4 3.9 -2.8 3 -1.2 3 -10.2 15 -4.7 4.5 -9.7 13.5 -3.2 18 -4 12 -2.2 4.5 -1.4 7.5 -2.2 7.5 -3.9 6 -3.7 7.5 -.8 7.5 -2.6 9 -5.1 12 -2.4 4.5 -4.7 12 1.7 .9 7.5 .4 7.5 2.8 7.5-.2 6 1.9 1.5-.3 6-6.8 4.5-2.9 6-2 4.5 .3 6 2.5 9.1 7.9 11.9 6.2 6 3.5 2.9 2.3 7.2 9 8.2 12 6.9 6 13.2 15 1.7 12 -.1 4.5 1.1 4.5 -.6 3 -4.5 6 -4.5 3.5 -4.5 2 -1.5 1.3 -3 1.1 -4.5 2.9 -1.2 1.2 -1.1 3 -3.7 5.3zM323.9 478.5l2.6-4.5 4.5-10.8 2.5-10.2 2.5-7.5 -.4-3 -1.6-.9 -6 2.4 -3 .3 -4.5-1.1 -4.5-1.9 -4.5-.4 -6-1.5 -1.5 .3 -4.3 2.8 -1.3 1.5 .1 1.5 7 4.5 3 3 12 23 1.5 2.4 1.5 .7 .4-.6zM247.0 510.6l-3 .6 -10.5-.3 -25.5-12.9 -4.5 .6 -4.5-.4 -1.5-.6 -3-.2 -3-1.6 -1.1-2.3 0-1.5 2.6-1.7 5.5-5.8 1.7-4.5 0-1.5 1.5-3 -.4-3 -2.3-2.3 -1.6-.7 1.6-1.5 6 0 3-1.5 3-.1 3-1.3 4.5-1 4.5-.2 3.7 1.1 5.3 2.7 10.5 1.4 7.5 4.6 4.5 5 1.6 2.8 1.5 7.5 .3 7.5 -.7 3 -5.7 6 -3 4.1 -1.5 1zM245.5 532.9l-3 0 -6-2.9 -3.6-3.5 -.6-3 2.7-2.5 3-1 4.5 .2 3 1.3 3 3 .7 3.5 -.6 1.5 -3.1 3.4zM400.3 616.5l.2-1.5 -2-3 -6.4-6 -2.6-1.5 -1.7 0 -1.1 1.5 -.1 1.5 .7 3 .7 1 6 3.6 4.5 1.4 1.8 0zM328.4 831.0l-4.9-2.8 -4.5-4.9 -5.1-7.3 -7.8-13.5 -3.6-2.8 -4.1-4.7 -6.6-6 -5.9-9 -1.4-5.5 -1.4-2 -6.1-5.6 -9-10.3 -9-3.4 -6.4-6.2 -2.3-4.5 -1.9-6 -7.4-9 -1.6-3 -2.9-3.4 -2.8-5.6 -1.7-6 -3.9-3 3.6-6 3.3-1.2 4.5 .9 4.5 2.4 6 .2 4.5 1.5 3 1.8 3.3 3.4 4.1 7.5 4.6 6.7 3 1.2 4.5-.5 4.5 1.4 4.5 .8 4.5 3 4.5 .1 1.5 .8 9 8.3 1.5 .6 1.5-.4 6-8.4 7.2-6.1 -.9-1.5 -7.3-6 -2-.9 -12-1.9 -6-6 -4.7-3.2 -2.8-1.6 -6-1.7 -1.6-1.2 -3.4-9 -.1-6 1.7-4.5 6.4-6.6 1.5-1 3-.8 6 1 3.3 1.4 4.2 .9 4.5 2.4 1.5 .2 4.5-1.8 13.5 1.9 9 4.5 7.5 2 9 7.1 8.5 3.8 7.3 4.5 14.2 5.2 10.3 5.3 1.7 1.5 4.5 6.3 3 5.7 1.3 4.5 -1.3 4.5 -.1 4.5 -.8 3 .2 4.5 -1.1 3 0 3 -1.3 3 -2.3 13.5 -.6 2 -1.5 1.2 -6 .6 -.4 .7 6.7 9 1.7 3 2.5 2.6 3 6.6 .9 5.8 1 1.5 3.4 3 .3 1.5 -.7 1.5 -4.1 6 -1.7 1.5 -8.1 3.8 -6 1.5 -1.5 .1 -6-1.3 -10.5-4.8 -4.5-.4 -4.5 3.9 -4.5 4.9 -4.5 6.1 -3 2.1 -2.7 .6M381.0 765.0l-1.6-4.5 -1.9-2.8 -1.5-1.4 -2.3-.3 -.7 .9 .1 2.1 1.6 3 1.4 1.5 2.9 1.9 1.5 .3 .5-.7zM680.5 156.9l-3-.5 -1.1-1.9 .4-6 -2.7-9 .2-3 -4.3-4.7 -9.2-7.3 -1.1-1.5 -.8-3 .8-4.5 -.5-1.5 -6.2-6 .1-1.5 1.9-3 4.5-2.5 3.2-3.5 2.3-4.5 .6-3M323.5 295.6l-4.5 .6 -3-1 -3-2.5 -4.8-6.2 -1.5-3 -.4-3 1.4-6 1.5-3 6.6-7.5 3.4-10.5 8.8-10.5 3.1-3 4.4-9.2 3-2.1 4.5-.1 3-6.4 1.5-1.3 1.5-.2 1.5 .8 1.5 2.1 4.5 3.1 1.1 2.8 .2 3 -2.4 4.5 -4.4 15 -4.5 7.5 -3.5 7.3 -6.4 7.7 -1.9 10.5 -.7 1.8 -1.8 2.7 -3 3 -2.7 2 -3 1.1zM427.0 669.8l-3 .6 -7.5-2.1 -5.4-5.3 -5.8-3 -2.6-3 -2.7-6 -4.5-4.6 -1.5-.5 -7.5-.2 -7.5-3.9 -4.5-.9 -1.5-.8 -4.5-4.7 -7.5-2.5 -4.5-.4 -7.5-4.3 -4.5-.5 -2-.7 -7-7.5 -3.1-7.5 -3.7-3 -9.7-1.5 -10.5-3.9 -6-3.3 -4.5-4.3 -3-1.8 -1.5 .2 -3.9 2.6 -6.6 6.9 -4.5 1.6 -3 .1 -3-.7 -1.5-1.1 -4.3-6.8 4.4-7.5 .6-6 3.9-7.5 3.9-4.5 .8-4.5 1.8-3 11.4-12.6 4.5-2.3 1.1-1.6 3.3-10.5 2.3-10.5 -.7-5.4 -1.2-3.6 -4.6-10.5 -8.5-16.5 -5.2-19.5 -1.8-7.5 -.2-3 1.3-4.5 2.9-4.5 -.8-1.5 -7.4-1.1 -6-2.1 -3.9-2.8 -4.1-6 -2.5-7.5 -.4-4.5 .7-3 7.5-10.5 2.8-6 11.9-16 6-6 7.1-12.5 9.4-10.9 5.3-13.1 3.7-6.5 2.9-7 1.8-7.5 .2-7.5 1-4.5 4.7-6 2.7-4.5 6.2-4.2 6-1.5 9-.3 10.5 2.1 4.2-.6 7.8-2.5 10.5-2.2 1.5-.7 4.5-4.4 3-1.5 4.5-1.1 7.5 1.4 8 5 2.9 4.5 1.9 4.5 .6 3 -.8 9 -.9 3 -2.7 2.8 -6 3.8 -3.1 5.4 -4.7 4.5 0 3 1.6 6 3.4 4.5 -.5 4.5 .3 1.3 2 3.2 -.8 6 1.2 3 -1.2 3 -2.9 3 -2.8 7.5 1.2 7.5 -.6 6 -3.1 6 -1.6 6 -6 9 -3.2 3 -.3 4.5 -.8 1.5 -9.5 10.5 -1 3 -2.6 3 -4.6 9 -4.1 6 -2.7 7.5 -2 13.5 -2.8 9 -2.5 6 -3.3 13.5 -.6 1.5 -3.5 4.5 -3.4 6.4 -.7 2.6 -.3 6 -2.6 9 -6.8 15 -1.6 5.1 -6 7.5 -.8 3.9 .8 1.8 3 2.3 9-.7 4.5 1.8 4.5 .9 6-.5 7.5 3.6 3 .7 1.5-1.5 1.8-5.4 4.2-4.1 6-1.7 7.5-.3 2.8 1.6 3.2 4.5 6 2.2 4.5 3.1 9 4.2 6 3.5 3 4.7 4.6 4.8 3 7.5 17.9 16.7 6.8 7.3 1.3 3 .9 9 -.9 6 .9 6 -1.5 4.3 -4.5 4.2 -4.6 2 -2.9 2 -3 .9 -3 2.1 -1.5 1.2 -4.5 6.6zM250.0 453.8l-4.5 0 -4.5-2.1 -1.7-1.7 -1.9-4.5 .3-4.5 1.8-4.2 2-1.8 4-1.7 6 .9 3 1.2 2.9 4.1 1.2 3 -.2 3 -1.3 3 -7.1 5.3zM325.1 484.5l1.7-4.5 2.6-4.5 9.5-28.5 .4-4.5 -.8-4.8 -1.5-1.8 -1.5 0 -6 3.3 -4.5 1 -3-.6 -4.5-2 -4.5 .2 -6-1.6 -3 .3 -7 4.5 -5.2 4.5 -2.2 3 .9 .8 4.5-.6 3 .6 3 1.5 2.6 2.2 7.8 10.5 10.6 21.1 1.5 1.2 1.6-1.3zM245.5 507.7l-4.5 .6 -7.5-1.1 -15-7.2 -4.5-1.4 -6-3.2 -9 .8 -4.5-.3 -1.5-.9 -1.2-1.5 .9-1.5 6.5-6 1.8-4.5 .5-3 .9-1.5 .3-4.5 -2.7-3 5-.2 3-1.5 4.5-.7 1.5-.9 4.5-.9 4.5 .3 4.5 2.2 3 3.1 4.5 1.2 6 .6 6 4.1 3 4.7 3 3.3 1.5 4.2 .3 3 -1.2 6 -.7 1.5 -4.7 6 -2.7 2.2zM245.5 531.2l-1.5 .8 -1.5-.1 -6-3.1 -2-2.3 -.5-1.5 .9-1.5 1.6-1 3-.7 3 .5 1.5 .8 3 3 .6 1.9 -2.1 3.2zM409.6 624.0l.2-3 -2.5-4.5 -5.8-5.9 -3.9-3.1 -2.1-3.1 -9-5.5 -1.5 .4 -1.7 3.7 0 6 .6 3 1.1 1.7 6 4.8 6 2.4 7.5 1.6 3 2 2.1-.5zM340.0 826.5l-3 .8 -1.5-.2 -3.4-3.6 -.3-4.5 -.8-1.3 -4.5-3 -4.5 0 -3-1.5 -6.4-7.7 -2.2-4.5 -4.9-5.5 -4.5-4.2 -4-2.3 -2-2 -4.5-5.5 -3-10.8 -1.5-2.4 -4.6-4.8 -2.5-6 0-4.5 -1.1-6 .7-.4 1.5 1.2 1.5-.3 -.4-3.5 .6-1.5 4.3-3.6 4.5-1.1 3 1 .5 .7 .4 4.5 .6 1.3 3.6 3.2 2.4 3.1 3 2.2 6 .9 6 3.5 6 8.7 1.6 1.1 1.4 2.6 1.3 7.9 0 4.5 .9 1.5 3.8 2 4.5 4.4 7.5 5.4 3 3 4.5 1.3 1.5-.1 .4-1 -.4-3 -6.4-12 -2.9-3 -2.9-4.5 -7.3-7.7 -1.5-1.5 -3-1.6 -5.4-5.7 -2.1-4.5 -4.5-4.7 -2.2-5.8 .6-7.5 2.6-4.5 2.1-1.5 13.2-6 .4-1.5 -3.2-2.2 -4.5-4.4 -4.5-1 -6-3.7 -8.7-3.7 -1.8-3 -10.5-3.2 -6.8-5.8 -4.4-7.5 -.9-4.5 .8-4.5 2.3-2.4 1.5-.7 1.8 .1 5.7 1.9 4.5 0 7.1 4.1 1.9 .6 3-.2 4.5-1.8 6-.6 6 1.5 7.5 5.4 7.5 2.9 6 5.1 9 3.7 4.5 4 7.5 .9 8.1 2.5 6.9 4.7 5.2 2.8 2.9 3 2.8 4.5 1.6 4.5 2.1 3 -.5 4.5 .3 10.5 -1.1 6 -.8 1.5 -.6 4.5 -1.4 4.6 -1.5 1.7 -1.5 .5 -3 0 -3.8-2.3 -1.9-3 -2.3-6 -4-2.4 -6-5.1 -2.5-3 -3.5-2.6 -7-3.4 -5-1.5 -2.5 0 -.6 1.5 2.3 4.5 6.8 4.2 6 5.4 6.9 11.4 6.7 7.5 1.6 4.5 4.3 4.1 5.2 3.4 3.8 6.1 4.5 4.7 1.6 2.7 .8 4.5 2 4.5 -1.2 3 -3.2 4.5 -4.1 3 -3.4 1 -6 .1 -3-.6 -6-3.2 -6-1.7 -10.5-6.5 -3-1.1 -1.4 1.5 .6 7.5 -.8 3 -4.4 3.7 -1.9 3.8 -2.6 3.2 -1.5 .9 -3 .4zM272.5 739.9l-2.5-.4 -3.5-2.5 -4.5-.2 -3 .8 -1.5-2.6 -4.5-2.2 -3.4-5.3 -3.4-3 -3.2-4.5 -3.3-3 -1.5-4.5 .3-3 2.5-1.7 6-.4 4.5 1.3 4.5 2.4 1.6 1.4 5.9 11.7 3 4.6 3 2.3 3-.2 1.5 .7 -1 3.4 -.5 4.9zM680.5 131.7l-4.1-2.7 -2.8-4.5 .6-4.5 -.4-1.5 -.8-.9 -4.5-1.3 -3-3.8 1.2-6 -1-4.5 1-3 .5-4.5 1.1-4.5M323.5 294.1l-4.5 .4 -3-1.3 -5.7-6.7 -2.1-4.5 1.4-7.5 3-4.5 5.3-4.5 3.8-12 4.6-4.5 6.2-7.9 4.5-7.5 3-1.9 4.5 2 4.5-2.1 3 .6 -.3 3.3 -3 7.5 .6 4.5 -.5 3 -7.3 13.8 -7.3 8.7 -1.9 12 -2.4 4.5 -3.4 3.2 -3 1.4zM425.5 667.7l-3 0 -3-.8 -1.5-.8 -2.5-3.1 -3.5-2.5 -4.5-2.2 -1.5-1.3 -.7-1.5 -1.2-4.5 -2.6-3.4 -3.6-2.6 -2.4-1.2 -6-.7 -6-2.3 -3-2 -4.5-1 -3-2.8 -3-5.2 -10.5-.7 -6-1.8 -4.5-2.2 -4.5-.9 -6.3-6.2 -1.2-1.7 -2.2-5.8 -2.3-2.6 -4.5-1.9 -9-1 -6-2.1 -8.5-4.4 -8-7.1 -1.5-.5 -3 1.3 -6.5 4.8 -3.4 4.5 -3.6 1.5 -6-.7 -1.5-1 -3.2-4.3 4.1-7.5 1.1-6 9.3-13.5 .4-4.5 1.6-3 4.7-5.4 4.5-3.8 4.5-1.5 1.5-1 1.2-1.8 1.4-6 1.9-4.5 2.6-10.5 .1-3 -1.3-6 -7-16.5 -4.5-7.5 -2.7-6 -2.1-10.5 -2.7-7.5 -1.8-7.5 -.1-2.2 1.2-3.8 1.8-2 7.5-3.7 3 .2 3 1.9 8.1 9.6 9.9 19.6 3 5 1.5 1.3 1.5-.4 6.7-13.5 4.6-13.5 4.9-16.5 1.1-7.5 1.9-4.5 -1.2-3.4 -1.5-.4 -9 4.4 -7.5 2.9 -3-.2 -4.5-1.5 -4.5 .1 -4.5-2 -3-.2 -3 1.2 -9 6.8 -7.5 4.9 -6 .4 -7.5-2 -1.5-1.2 -2.8-3.8 -1.6-3 -.4-4.5 -1.7-4.5 .4-3 7.6-11.4 1.1-3.6 1.7-3 6.6-7.5 4.1-6.9 7.6-8.1 5.3-10.5 3.6-3.2 6-7.5 6.2-13.3 2.9-4.5 3.8-9 2.1-7.5 -.3-7.5 1.4-6 4.1-4.5 3.1-4.5 6.8-4.5 2.9-.9 21 1.9 10.5-3 10.5-1.9 3-1.6 4.5-4.6 3-1.4 3-.7 7.5 1.7 5 3 2.4 3 2.4 4.5 1.2 3 .4 3 -.5 6 -1.1 3 -3.8 3.6 -5.2 2.4 -2.3 6 -5 4.5 -1.2 3 2.1 9 2.2 6 1.3 7.5 -.9 7.5 -3.3 6 -.7 3 -.2 4.5 1.4 6 -.9 7.5 -3.7 6 -1.5 6 -1.6 2.6 -7 7.9 -1.2 6 -3.3 4.5 -3.5 3.1 -7.5 1.8 -.4 1.1 .4 1.2 2.3 1.8 -.3 1.5 -1.9 6 -9.1 16.5 -1.7 9 -.5 6 -2.8 10.5 -2.4 6 -3.4 13.5 -6.3 9 -1.6 4.5 -.5 6 -2.2 9 -5.6 11.9 -3.3 9.1 -6 7.5 -1.4 4.5 .3 1.5 4.4 6.3 6-1.2 3 .1 4.5 3.3 9-1.6 3 .3 18 9.9 1.5-.6 -3-3.5 -1.7-4 1.2-6 .8-1.5 2.7-2 6-.6 1.9 1.1 1.1 4.9 3 2.4 6-1.3 4.5 .7 10.5 7.1 6 1.5 2.3 1.2 2.8 4.5 5.4 4.9 1.8 7.1 1.2 2.7 6.1 3.3 13.4 11.9 5.2 6.1 1 3 -.2 4.5 .6 4.5 -1 6 .9 7.5 -3.5 4.4 -7.5 4 -3 .6 -1.5 .9 -3 2.4 -3 4.2 -3 1.7zM247.0 451.8l-3-.5 -2.1-1.3 -2.5-4.5 .1-3 1.1-3 1.9-2.6 3-1.6 3 .2 4.5 1.5 2.1 2.5 1.2 3 -.6 3 -1.2 1.9 -4.5 3.4 -3 1zM241.0 505.5l-3 .2 -4.5-1.1 -30-13.3 -3 .3 -4.5 2.4 -1.9-.5 6.4-6.3 3-10.2 .8-6 5.2-2.5 10.5-2.1 6 2.8 3 3.6 10.5 2.3 4.8 3.4 2.4 4.5 4.7 4.5 .9 3 -.1 1.5 -4.3 9 -3.9 3.8 -3 .7zM244.0 531.0l-4.5-1.4 -2.4-1.6 -1.1-1.5 -.1-1.5 3.6-1.5 1.5 .2 2.6 1.3 2.3 3 -.5 1.5 -1.4 1.5zM413.5 627.0l-.1-3 -1.4-4.5 -2.8-4.5 -9.2-8 -2.7-4 -1.8-1.5 -3.3-1.5 -4.2-3.8 -3-1.1 -2.2 .4 -2.5 4.5 -.6 3 1.8 9 2 3.6 6 5.7 3 1.6 7.5 1.7 6 2.9 6 .6 1.5-1.1zM378.8 624.0l-2.8-.4 -.3 .4 1.8 .4 1.3-.4zM389.5 760.5l-1.5 .2 -1.5-.5 -1-1.2 -.7-4.5 -.8-1.5 -2.8-3 -7.9-6 -2.1-3 -5.7-3.7 -6-3.1 -10.2-3.7 -4-4.5 -6.8-2 -8.7-5.5 -4.8-5.1 -6-2.1 -2-3.3 -5.1-3 -.7-4.5 -5.7-7.2 -3-1.1 -4.5 .1 -1.2 .7 -.4 1.5 -1.4 1.8 -.8-1.8 2.2-3 1.6-4.5 1.5-.8 3 1.4 4.5 .5 1.3 .4 3.2 2.5 3 .5 1.5-.7 2.4-3.8 3.6-.9 3 .2 1.5 .8 2.7 4.4 1.8 1.7 4.5 .4 3 1 6.1 4.4 7.4 4 3 .9 1.5 1.2 3 4 7.5-.7 6 1.2 3.2 1.4 5.8 4.5 6 3.4 3.6 5.6 .7 4.5 1.9 3 .4 6 1.8 6 -.7 6 -1.7 7.2 -1.5 1.7 -3 1.6zM256.0 726.2l-1.5-.9 -1.5-2.1 -.2-4.7 3.2 1.6 1 1.4 .5 3.2 -1.5 1.5zM389.5 813.4l-4.5-.2 -3-1.1 -4.5-4.3 -6-.5 -4.5-1.3 -10.5-7.6 -4.1-6.4 -2.2-6 -7.6-10.5 -13.5-12 -3.3-4.5 -2.3-4.5 -3.8-4.5 -1.9-6 -.4-4.5 1.4-3 1.6-1.5 4.6-3.2 4.5-1.8 7.5 .2 1.5 .6 3.5 4.2 4 3.6 3 4.5 1.5 1.3 7.5 3.6 3.5 3.5 4 8.6 9.4 9.4 2.6 6.2 4.4 4.3 5 3 9.2 13.5 .9 3 .1 4.5 -.6 3 -2.5 3.5 -4.5 2.9zM319.0 801.6l-1.5-.2 -4.3-3.4 -1.4-1.5 -.8-3 -3-1.5 -1.3-1.5 -1.2-2.8 -3-1.4 -4-3.3 -5.4-6 -1.1-3 -.3-4.5 -4.1-6 -1.1-3 .6-1.5 2-1.5 3.2-4.5 2.7-.9 1.5 .1 7.5 5.9 9 4.7 3.9 3.7 4.1 9 .4 7.5 -.9 2.2 -1.2 .8 1.4 1.5 3.2 1.5 .4 1.5 -1.7 4.5 -1.3 1.5 -2.3 5.1zM303.0 777.0l.8-1.5 -1.3-.8 -.9 .8 .3 1.5 .6 .7 .5-.7zM341.5 819.1l-3-.1 -3.1-6 -.8-3 .9-2.4 3-1.3 1.5-1.7 6.4 .9 1.1 .8 .7 2.2 -.2 1.5 -.9 1.5 -4.1 3 -.2 3 -1.3 1.6zM680.5 118.1l-1.1-4.1 -7.6-10.5 -1.3-7.5 1-2 3-.8 4.5 0 .9-1.7 .1-1.5M323.5 292.8l-3 .6 -3-.9 -6-6.7 -1.8-3.8 .9-6 2.5-4.5 2.9-2.5 3.5-2 1.1-1.5 .6-4.5 2-6 8.6-9 5.2-9.7 3-1.9 4.3 2.6 1.2 1.5 -.6 4.5 1.4 6 -2.2 6 -3.4 4.5 -2.3 4.5 -2.9 4.2 -3.2 1.8 -1 1.5 .6 6 -1.4 7.5 -2.1 4.5 -1.9 1.8 -3 1.5zM365.5 625.8l-3 1 -1.5-.2 -7.5-2.4 -10.5-5.3 -3.9-3.9 -2-6 -3.6-4.5 -8.5-1.8 -6 0 -6-1.8 -7.5-4.3 -4.5-3.5 -4.5-5 -1.5-.2 -11.2 7.6 -3.8 4.9 -1.5 .4 -4.5-.2 -3-1.6 -1.8-2 .2-1.5 3.4-6 1.2-5.3 4.3-5.2 5.9-9 .2-4.5 1.1-3 5.3-6 2.7-1.6 6-1.2 1.8-1.7 1.3-3 .7-4.5 2.1-4.5 2.7-12 -.7-7.5 -3.9-9 -2.3-9 -1.7-2.8 -3-3.2 -3.5-7.5 -1.2-4.5 -.7-6 -3.3-9 -1.4-6 -.1-1.5 .9-3 1.8-1.9 7.5-2.8 1.5 .1 1.5 .8 7.5 8.7 14.5 26.6 2 1.9 1.5-.2 1.5-1.7 7.6-16.5 1.5-6 2.6-6 5.9-22.5 3.4-3 .7-1.5 1.5-6 -.6-3 .5-6 -2.1-.8 -3 .3 -1.5 1.2 -2.7 5.3 -4.8 4.2 -3 1.6 -9 2.8 -10.5-1.2 -6-2.9 -3-.1 -3 1.9 -9 7.6 -6 3.2 -4.5 1.3 -7.5-1.2 -3.8-3.7 -1.4-3 0-3 .9-3 -.8-4.5 1.5-6 3.6-5.9 2.1-6.1 7.6-7.5 3.8-7.4 7.5-7.8 4.9-10.3 5-4.5 9.4-15 9.9-21 1.7-6 -.8-6 1-6 6.4-7.8 7.2-5.7 1.8-.6 4.5 1.2 10.5-.1 4.5 .7 13.5-3.3 9-1.2 3-1.6 6-5.8 3-1.3 3-.2 7.5 2.5 3.7 3.7 2.7 4.5 1.7 4.5 .1 6 -.9 3 -1.3 1.9 -3 2.1 -5.4 2 -2.1 6.1 -7 7.4 -.3 1.5 2.3 10.5 1.1 3 1.8 3 1 4.5 -.7 7.5 -7 10.5 2.6 4.5 1.1 4.5 -.5 7.5 -.5 1.5 -4.4 5.3 -.3 3.7 -1.1 3 -3.1 2.1 -1.5 2.6 -3 1.9 -2.3 2.4 -2.4 10.5 -1.3 1.5 -1.5 .7 -6 1.2 -1.5 .8 -1.3 1.8 -.3 3 1.4 4.5 -.2 3 -2.6 6 -6.4 10.5 -.6 6 -1.4 3 .2 6 -1.5 7.5 -3.7 10.5 -3 12 -1.6 3 -4.7 6 -1.9 6 -2.3 13.5 -3.3 7.5 -3.4 4.5 -3.1 10.5 -4.8 6 -2.4 4.5 .4 5.4 4.5 5.9 1.5 .6 4.5-1.1 3 0 2 1.2 2.5 2.9 1.5 .1 7.5-2.4 3 .1 6 4.3 15.7 8.5 5.3 2.4 1.5 1.4 .5 2.2 -2.5 7.5 -.1 4.5 .5 3 4.1 7.5 -2.3 1.5 -4.7-.1 -1.5 .6 -3.4 4 -4.1 1.8zM248.5 449.1l-3 .8 -1.5-.5 -1.5-1.3 -1.2-2.6 .1-3 1.1-3 1.5-1.9 1.5-.8 3 .2 3 1.2 1.5 1.4 1.2 2.9 -1.2 3.5 -4.5 3.1zM241.0 502.7l-3 .6 -3-.5 -13.5-5.8 -6-1.9 -6.8-3.1 -2.1-1.5 -2.2-3 -1.4-4.5 .4-3 1.6-5 2.4-4 2.1-1.2 6-1.9 4.5 0 7.7 6.1 5.8 1.5 2.9 1.5 12.1 11.3 1.3 2.2 -.8 3 -3.6 6 -4.4 3.2zM242.5 529.1l-3.5-1.1 -1.4-1.5 .4-.7 1.5-.5 2.9 1.2 1.1 1.5 -1 1.1zM376.0 579.9l-1.5 0 -1.5-.8 -1.7-1.6 -1.3-2.5 .1-2 1.3-3 1.6-.9 1.5 0 1.6 .9 -1.8 4.5 1.8 4.5 -.1 .9zM427.0 664.7l-3 1 -4.1-1.2 -6.4-6.5 -4.5-2.5 -1.5-6.6 -4.5-4.2 -6-3.6 -5.4-.6 -9.6-5.1 -2.7-.9 -2.7-3 .1-1.5 4.1-1.5 4.2-5.6 1.5-.1 6 3.8 7.5 1.3 4.5 3.3 4.5 .1 4.5 2.8 3 .1 1.9 3.3 2.6 1.2 3 .4 1.1-1.6 -2.6-2.8 -4.5-2.1 -5.2-16.1 -1.8-3 -9.3-7.5 -3.4-4.5 -5.8-3.2 -3-4 -4.3-1.8 -2.2-1.5 -1.7-4.5 -3.2-3 -2-3 4.4-1.5 6 .4 1.5-.4 2.2-3 2.3-.3 3 1.4 9 7.2 6 1.5 4.4 5.2 3.8 3 .9 1.5 1.8 9 1.1 1.4 2.9 1.6 3.1 3.6 6 2 3 1.6 5.3 4.8 4.6 6 .5 1.5 -.5 6 .7 4.5 -2.2 9 .1 1.5 1 1.5 .1 1.5 -.6 1.5 -3 2 -4.5 2.1 -6 1.1 -2.6 3.8 -3.4 3.2zM319.0 699.1l-1.5-.4 -1.8-2.7 3.3-.9 1 .9 .5 1.5 -1.5 1.6zM391.0 754.0l-1.5-.3 -6-7.2 -4.5-2.3 -5-4.7 -4-1.9 -9.8-7.1 -7.7-3 -5-5.5 -1.5-.5 -4.5-.2 -7.2-2.8 -2.2-1.5 -5.2-6 -.7-1.5 0-3 -1.1-1.5 0-1.5 4.4-5.1 1.5-.8 3-.8 3 .2 3 1.5 7 5 2 2.5 1.5 .5 3-.1 1.5 .9 3 4.5 3 .6 7.5-1.2 4.5 .9 7.8 6.4 5.7 2.7 2.3 3.3 1 4.5 1.9 4.5 .3 6 1.8 6 -.6 3 -2.2 5.5zM389.5 811.0l-3 0 -3-1.4 -3-5.5 -1.5-.9 -1.5-.1 -4.5 1.4 -4.5-.6 -7.5-4.3 -3-2.7 -3.7-6.4 -1.3-4.5 -7-11.4 -14.4-11.1 -3.5-4.5 -2.1-6 -3.1-4.5 -2.3-6 .2-3 4.2-5.3 4.5-2.2 4.5 .5 2.8 1 3.4 4.5 4.9 3 3.9 5.3 7.5 3.4 2 1.8 2.1 3 1.9 6 1.5 2.3 4.5 3 3.9 3.7 2.9 6 2.1 3 3.1 2.7 4.5 2.8 3.7 5 2.8 6 1.3 4.5 .5 4.5 -.2 3 -.8 1.5 -2.8 2.5zM311.5 774.5l-1.5 .3 -1.3-.8 -1.7-2.8 -1.5-1.1 -7.5-.6 -4.5-2.8 -1.7-1.7 -.5-1.5 0-1.5 .9-1.5 2.8-3 1.5-.6 4.4 2.1 3.8 6 .8 .5 3-.4 1.5 .5 2.3 2.4 1.1 3 -.2 1.5 -1.7 2zM325.0 264.4l-1.5-1.8 -.1-1.6 1.9-4.5 1.2-1.5 7.8-6 1.1-1.5 1.8-7.5 1.3-2.3 1.5-.4 1.5 .7 1.1 2 -.8 4.5 1.3 3 0 1.5 -2.1 6 -3.4 3 -2.1 5.3 -1.5 .6 -3-1.2 -1.5-.1 -4.5 1.8zM323.5 291.7l-3 .5 -3-1.3 -5.2-5.9 -.8-1.5 -.5-3 1.1-4.5 2.9-4.5 2.5-1.7 6-2 1.5 .5 3 3.2 2.1 6 -.6 6 -1.4 4.5 -1.6 1.9 -3 1.8zM362.5 624.0l-4.5-1 -4.5-3.1 -3-.4 -2.8-1.5 -4.7-1.6 -2.5-2.9 -1.3-4.5 -2.2-4 -1.5-1.9 -1.5-.9 -4.5-.4 -4.5-1.3 -9-.2 -3-1.3 -6-3.8 -5.5-4.2 -2-3 -1.5-4.5 -3-2.7 -1.5 1.6 -1.5 4.8 -7.1 5.3 -6.6 3 -1.3 1.7 -1.5 .8 -3-.6 -1.5-1 -.3-.9 5-10.5 4.3-5.6 2.6-4.9 1.9-2.1 2.2-.9 -.3-7.5 2.8-4.5 1.3-1.6 3-1.5 7.5-.3 1.9-1.1 1.4-4.5 .5-6 2.1-4.5 2.2-9 .2-6 -.7-4.5 -4.2-10.5 -1.4-9 -5.7-6 -2.3-4.5 -1.9-7.5 -.8-10.5 -.5-1.5 -2.4-3 -1.1-4.5 .4-3 1.8-1.6 4.5-1.9 1.5-.4 2 .9 7 7.9 4.5 6.7 7.7 13.9 4.3 9 1.5 1.3 3.7-4.3 2.7-6 4.1-6.9 2.2-6.6 .9-4.5 3.4-6 1-6.1 2.1-4.4 2-10.5 4.2-3 1.2-3 2.2-3 .4-3 -1.1-6 1.6-4.5 .3-3 2.1-2.7 3-1.8 .8-1.5 -.6-3 -3.2-2.8 -3.2-.2 -1.3 1.5 -2.5 9 -2 1.3 -3 .6 -1.5 1.1 -4.7 7.5 -2.7 3 -1.6 1.5 -3 1.3 -10.5 2.3 -7.5-1.3 -6-4.3 -1.5-.3 -4.5 2.4 -7.5 7.9 -7.4 4 -6.1 1.7 -4.5-.8 -1.7-.9 -2.7-3 -.6-3 2.1-6 -.4-7.5 3-6 1.6-6 3.2-3.7 4.9-3.8 3.8-7.5 7.8-8.2 1.9-5.3 2.6-4.8 1.5-1.8 3.3-2.4 11.3-18 9.5-21 .9-4.5 -.9-7.5 1.4-4.6 10.5-10.3 3-1.7 9 1.2 6-.5 4.5 .6 10.5-2.8 6-.9 4.5 .1 4.5-1.9 4.5-4.8 3-2.3 1.5-.6 3-.2 6 1.8 3.3 2.9 3.2 4.5 1.2 3 .7 3 .1 4.5 -1 3 -1.5 1.6 -7.3 2.9 -1.4 1.5 -2.2 6 -7.1 7 -.9 2 1 4.5 -.9 4.5 5.7 7.5 1.1 3 0 6 -.7 3 -3.8 5.6 -3.4 3.4 .4 2.5 2.4 3.5 1.2 4.5 .1 3 -.8 4.5 -2 3 -3.9 3 0 4.5 -7.5 6.9 -4.5 5.1 -.6 3 .2 4.5 -1.1 2.5 -1.5 .4 -3-1 -1.5 .7 -4.5 6.4 -1.5 6 1 3 -1 4.7 -3.2 7.3 -3.6 4.5 -.2 6 -2.5 4.5 1.1 4.5 -.2 3 -1.5 7.5 -2.8 7.5 -1.9 9 -2.4 6 -3.8 4.1 -1.5 3.1 -1.5 5 -1.8 11.8 -1.2 3.9 -3 5.9 -4.4 5.2 -1.3 7.5 -1.1 3 -6.1 7.5 -1.3 3 0 4.5 .8 3 1.4 2.1 4.5 4.4 1.5 .5 4.5-1 1.5 .2 3 2.8 3 .9 1.5-.1 6-2.3 3 0 9 6 4.5 1.3 10.4 6.2 .8 1.5 -1.6 3 .2 1.5 1.7 1.5 .5 1.5 -1.4 4.5 -.3 3 -1.7 3 1.4 3 0 1.5 -4.2 6 -1.3 .9 -4.5 .6zM363.8 387.0l.5-1.5 -.6-1.5 -2 0 -1.4 1.5 .7 2.4 1.5 .1 1.3-1zM248.5 447.2l-3 1 -1.5-.8 -1.1-1.9 .4-4.5 2.2-2.6 3 0 2 1.1 1.3 1.5 .2 3 -1.1 1.5 -2.4 1.7zM238.0 501.0l-9-2.6 -3-1.4 -2-2 -1-2.6 -1.5-.8 -3 2 -1.5 .1 -7.5-3 -1.5-1.2 -1.3-2 -1.8-6 .3-3 1.4-3 1.4-1.6 4.9-2.9 2.6-.8 1.5 .2 3 2.8 6 1.5 7.5 2.9 1.9 2.4 3.3 3 3.4 4.5 2.3 6 -.6 3 -2 3 -2.3 1.3 -1.5 .2zM296.7 577.5l4.3-1.7 4.5 .9 1.5-.3 1.5-1.8 0-1.9 -1.5-2.2 -1.5-.1 -4.5 2.5 -7.5-2.4 -4.5 .3 -1.4 .7 2.9 4.3 4.5 2.9 1.7-1.2zM424.0 663.2l-1.5 .1 -1.5-.7 -5.9-7.1 -3.1-2.2 -2.4-6.8 -2.2-3 0-1.5 1.8-3 1.3-1.1 1.5-.2 7.5 2.8 2.4 1.5 .6 1.5 -.3 1.5 -2.8 3 .1 3.2 1.5 1.3 1.5 0 3-1.2 4.5 .3 .6-.6 -1.1-4.5 -.4-7.5 -1.8-3 -8.6-7.5 -4.5-13.5 -3.7-6.1 -1.5-1.2 -3.9-1.7 -6-6 -5.1-2.4 -1.9-2.1 -1.1-3.8 -2.4-2.2 -.6-1.5 3.4-4.5 .1-3 1-2.1 2.2 .6 2.7 4.5 2.6 .9 10.5 5.7 4.6 3.9 1.4 2.2 3 9.8 3.8 3 2.2 4.4 4.5 1.5 6 .8 6.1 5.3 3.8 6 -.3 6 1 4.5 -.3 1.5 -2.8 5.5 -.9 5 .1 1.5 1.2 1.5 -1.7 1.5 -1.7 .3 -4.5-.5 -3 .3 -2.7 2.9 -1.8 3.3 -4.5 2.9zM389.5 745.0l-3-1.3 -3.9-4.2 -5.1-.8 -7.5-3.3 -6-5.6 -10-5.3 -2.3-3 -4.2-3.8 -6 0 -6.5-2.2 -4.1-4.5 .3-3 -.7-4.5 .5-1.8 1.5-1.3 6 .1 3 1.7 3 5.6 1.5 1.1 4.5 1.5 3 .1 3 2.9 3 1.6 4.5 .2 4.5-.8 3 .4 12.1 8.2 3.4 4.5 2.1 6 .9 10.5 -.5 1zM388.0 807.1l-2.5-1.6 -2.2-3 -2.8-1.9 -3-.4 -6 1.8 -3-.3 -3-1.3 -5.7-3.9 -2.3-4.5 -1.7-6 -3.3-4.5 -2.1-4.5 -3.4-4.5 -2.5-2.2 -10.6-6.8 -3.7-4.5 -1-3 -.1-4.5 -2.6-3 -3.4-6 .8-3 2.6-3.9 3-1.5 5.3 .9 3.7 5 6 3.1 3 4.4 9 5.3 1.5 1.6 2.5 7.6 1.8 3 4.7 2.4 1.5 1.2 3 3.2 1.7 3.7 2.8 4 7.5 6 3.3 3.5 2.1 6 -1.8 4.5 2.4 3 .4 1.5 -.4 2.9 -1.5 .2zM322.0 291.0l-3-.4 -1.4-1.1 -4.6-5.5 -.7-3.5 1.3-4.5 2.4-3.5 1.5-1.1 4.5-.8 3 .7 1.5 1.3 1.7 3.4 .3 3 -.1 4.5 -1.5 4.5 -1.9 1.8 -3 1.2zM284.5 439.8l-4.5 1.1 -3-.3 -3-1.4 -1.7-2.7 .5-3 2.7-1.8 .7-1.2 0-1.5 -1.4-3 -.2-3 2.4-7.4 .6-4.6 1.9-3 7.3-6 3.7-6.5 7.3-8.5 2.2-6 2.5-4.3 4.5-3.7 4.7-8.5 7.3-9.7 2-6.8 7.2-15 .5-4.5 -.8-7.5 1.6-3.9 4.4-3.6 4.6-5.4 3-1.8 19.5 .6 10.5-2.8 10.5-.5 4.5-1.6 6-6.1 3-1.8 6 .3 3 1.2 4.5 5.1 2.1 3.8 .8 6 -.4 3 -1 1.6 -1.5 1.1 -7.8 3.3 -3.2 7.5 -8 7.5 -1 3 1.2 9 5.1 6 1.3 3 .4 6 -1 3 -3.5 4.6 -5.5 2.9 1 .5 4.3 8.5 .9 4.5 -.5 4.5 -1.7 3.2 -4.5 3.2 -.8 4.1 -1.1 1.5 -9.8 10.5 -3.3 6.9 -3 .4 -6 10 -3 2.4 -1.5-.5 -1.5-2.1 -1.4-3.6 -.2-3 2.2-4.5 .6-3 1-1.5 2.4-1.5 1-3 -.3-3 -1.6-4.5 -.5-9 4.5-3 1.3-2 1.8-5.5 -.7-1.5 -1.1-.9 -3-.6 -4.9 4.5 0 6 1.8 3 -.6 1.5 -.8 .1 -3 3.2 -1.5 .8 -3 .4 -1.3-1.5 -1.7-4.2 -1.5-.6 -3 3.3 -.3 1.5 .8 1.5 1 .8 3.3 .7 1.5 4.5 -.1 3 -1.7 3.4 -4.5 2.9 -5.3 5.7 -1.2 3 -3.5 4.5 -3.5 1.4 -6 .8 -3 1 -6-1.2 -1.5-.7 -2.2-2.8 -.3-6 -.5-1.2 -4.5-3.3 -1.5 1.5 .8 4.5 -.8 2.3 -6 5.2 -4.3 6 -9.2 4.8zM247.0 446.0l-1.5 .2 -1.2-2.2 .8-3 1.9-1.2 2.2 1.2 .6 1.5 -.4 1.5 -2.4 2zM352.0 459.8l-1.5-.1 -4.5-3.7 .6-1.5 2.4-1.7 3-3.6 1.5-1.1 1.5 .1 1.1 1.8 -4.1 9.8zM365.5 621.8l-3-.1 -3.2-2.2 -1.6-3 .3-3 -1.5-1.4 -3 2.3 -3 1.1 -4.5-.4 -3-1.2 -4.5-10.1 -1.5-2 -1.5-1 -6-.7 -4.5-1.6 -9 .1 -11.3-7.6 -2.5-4.5 -.7-6 1-.9 4.5-.4 2.1-1.7 1.3-3 0-6 -.4-1.5 -3-2 -4.4 5 -1.6 .9 -1.5 0 -4.5-1.5 -4.5-.6 -1.5-.8 -.6-1 -.3-3 .6-1.5 2.1-3 2.2-1.5 3.5-.5 3 .6 4.5 2.2 1.4-.8 .9-7.5 -.5-6 2.4-6 2.1-9 -.2-7.5 -1.5-6 -3.1-7.5 -.7-9 -.6-1.5 -6.2-6.2 -1.9-4.3 -1.9-12 .7-7.5 -2.9-2.3 -1.5-3.7 .1-1.5 2.9-2.2 1.5-.4 1.1 1.1 .5 1.5 1.4 1.1 1.7 .4 7.6 7.5 3.7 7.5 5.4 7.5 3.2 7.5 .9 3.5 1.5 1.9 1.5 .7 1.5-1.1 5.4-11 5.1-7.5 2.4-7.5 .6-4.1 1.5-1.8 3-.4 6 1.7 1.5 .6 1.9 2.5 0 3 -1.4 7.5 -2.7 7.5 -.8 6.4 -3 7.1 -4.5 4.5 -2.5 9 -1.5 10.5 -1.3 4.5 -3.6 6 -4 4.5 -.7 1.5 -1.6 9 -1.9 3 -5.2 6 -1.5 3 -.2 1.5 1.9 7.5 .9 1.5 6.2 6.2 6-.4 4.5 2.1 4.5 .8 7.5-2.2 1.5 .2 3.5 2.3 3.9 4.5 4.6 .2 1.5 .6 2.5 2.2 2.8 1.5 1 1.5 -.9 4.5 .1 3 -3.1 9 .5 1.5 3 3 .7 1.5 -1.1 3 -2.5 2.3zM239.5 498.4l-10.5-2.1 -3-2.5 -3-5 -1.5 0 -4.5 3.1 -1.5-.2 -5.2-2.7 -1.6-1.5 -.7-2.1 -.8-3.9 .8-3.6 1.5-1.2 3-.4 3 .8 9-.9 4.3 .8 3.1 1.5 2 3 4.1 3.5 3.9 8.5 -.4 3 -2 1.9zM281.5 591.6l-1.5 .3 -2-.9 -.5-4.5 1-2.3 3-3.4 3-6.3 1.5-.5 1.5 1.1 3.2 3.9 .5 1.5 -.3 1.5 -1 3 -.9 1.2 -7.5 5.4zM412.0 604.9l-3-2.7 -4.5-.7 -3.8-3 -4.7-1.5 -2-1.4 -.9-3.1 .2-4.5 .7-1.5 6.8 1.5 5.2 2.5 5.1 3.5 .7 1.5 .2 4.1 1 3.4 -.2 1.5 -.8 .4zM439.0 649.9l-3 .5 -3-1.5 -1.3-2.4 -.1-6 -.8-3 -1-1.5 -10.3-9.2 -2.3-7.3 0-4.5 -2.7-4.5 .5-2.1 3 .9 3 2.7 0 4.5 1.5 1.1 4.5-1 7.5 .2 4.1 2.7 3.7 4.5 1.8 4.5 -.4 4.5 1.4 4.5 -.2 1.5 -2.9 4.5 -1.5 4.7 -1.5 1.7zM416.5 646.5l-1.5-.2 -1.2-2.8 1.2-.8 2.7 .8 -1.2 3zM343.0 714.2l-1.5-1.2 -4.5-.5 -.4-1.5 1.9-4.5 1.5 0 2.1 4.5 1.7 1.5 .3 1.5 -1.1 .2zM382.0 735.5l-3 .6 -3-.3 -5.1-2.3 -3.9-4.9 -4.2-2.6 -1.3-1.5 -.7-1.5 0-1.5 1.1-3 3.6-1.4 3 .1 2.2 1.3 .8 1.2 4.5 1.3 4.7 3.5 3.2 4.5 .3 1.5 -1.4 4.5 -.8 .5zM371.5 799.5l-4.5-.5 -4.5-2.4 -1.5-1.4 -1.7-4.7 .9-4.5 -.3-1.5 -4.9-3.4 -2.7-5.6 -5.8-6 -5-3.7 -4.9-2.3 -4.1-4.4 -.9-3.1 .9-4.5 -.4-1.5 -6.1-7.5 .7-3 1.3-2 1.5-1 3 .2 1.8 1.3 4.2 5.2 4.5 1.2 3 4.1 9 6 1.9 3 1.7 7.5 6.5 4.5 4.9 4.2 3 4.8 4.5 5.1 6.9 5.4 1.2 1.5 .8 3 -.3 1.5 -2.6 2.5 -6-.2 -6 2.2zM322.0 289.9l-1.5 .1 -1.5-.7 -4.5-5.1 -1-2.2 .8-4.5 1.7-2.9 1.5-1.4 3-.8 3 .3 1.5 .8 1.5 2.1 .6 1.9 .1 6 -.7 3 -1.5 2 -3 1.4zM283.0 438.4l-6 .4 -1.7-.8 -.9-1.5 .3-1.5 3.4-3 .9-3 -2.3-4.5 2.5-13.5 2.3-3 8.8-7.5 1.7-3.4 3-3.1 .9-2.5 3.2-4.5 1.6-4.5 2.8-4.5 5-4.2 4.6-9.3 7.4-8.4 1.1-6.6 7.9-16.5 .4-4.5 -.7-7.5 1.6-3 3.2-1.9 3-.8 1.6-4.8 1.1-1.5 1.8-1 4.5-.6 6 .6 3-.4 6 .4 10.5-2.6 10.5-.6 5.3-1.8 5.2-5.6 3-1.7 6 0 3 1.5 4.5 5.3 1 2 .8 6 -.6 3 -1.4 1.5 -9.6 4.5 -.8 4.5 -1.6 3 -2.8 2.8 -4.8 3.2 -1.4 1.5 -.4 1.5 1 10.5 5 6 1 3 .9 6 -.3 1.5 -2.5 3 -3 1.8 -4.8 1.2 -1.5 1.5 0 1.5 1.4 1.5 3 1.5 .8 1.5 2.9 7.5 0 6 -.8 1.5 -4 2.9 -1.3 1.6 -2.1 4.5 -2.6 3.8 -6.8 6.7 -2.8 4.5 -.9 .6 -3-.2 -.7 1.1 -.1 3 -.7 1.6 -1.5 1.1 -3 .8 -.4 1 .7 1.5 -.3 1.8 -1.5 .3 -1-.6 -.8-1.5 0-1.5 2.3-7.5 1-1.2 3-.8 .8-1 -.7-1.5 -.3-4.5 -1.8-7.5 .9-6 2.6-3.2 3.6-8.8 -.1-1.5 -1.8-3 -.4-3 .9-3 2.4-3 .6-3 -.7-2.2 -1.5-.3 -2.5 1 -1.2 1.5 -.2 3 1.6 4.5 -1 1.5 -4.2 1 -1.5 .9 -3 2.7 -1.5 2.7 .8 4.7 -.1 6 -.7 1.7 -1.5 1.1 -1.5 0 -1.5-.9 -2.4-3.4 -3.4-3 .2-3 -.4-.6 -1.7 .6 0 3 .8 1.5 -.5 1.5 -2.6 3 -.5 1.5 .2 1.5 2.8 4.8 3.5 2.7 .9 1.5 0 1.5 -2 3 -3.9 2.6 -5.8 4.9 -1.7 4.1 -3 3.1 -12 2 -4.5-1.1 -2-2.1 -.2-4.5 -.9-4.5 -2.6-3 -1.8-.9 -1.5-.1 -1.5 .7 -2.7 3.3 -.6 3 .2 4.5 -5.5 6 -2.2 4.5 -2.7 1.5 -3 .7 -4.5 2.7zM313.0 564.8l-1.5 .2 -2-1 -1-1.5 -1.1-4.5 .6-6 -1-6 2.5-6 1.9-7.5 -.4-9 -1.4-6 -3.4-9 -.3-9 -7.7-9 -.6-1.5 -.4-4.5 -1.5-6 .3-4.5 2-4.9 1.5-.6 6 2.8 1.8 2.7 1.4 4.5 6.3 7.5 1.2 4.5 3.4 7.5 2.4 2.9 1.5 .7 1.8-.6 5.4-12 4.8-6 5.5-13.5 2-.7 4.5 .7 2.5 1.5 .8 1.5 -1.4 10.5 -2.1 4.5 -.4 6 -.9 3.1 -3.3 5.9 -3.6 3 -.8 1.5 -.4 4.5 -3.8 18 -3.1 5 -5.7 7 -.7 6 -2.4 6 -5.5 6 -3.7 5.3zM230.5 492.6l-2.6-.6 -.9-1.5 -.9-4.5 2.2-3 -.6-1.5 -1.4-1.5 0-1.5 1.5 0 2.7 1.5 1.1 3 2.6 3 .1 1.5 -1.1 3 -2.7 2.1zM217.0 490.0l-1.5-.3 -3-3 -1.5-.8 -1.1-2.9 1.1-1.8 1.5 .2 1.5 2.1 5.9 2.5 -1.5 3 -1.4 1zM301.0 569.3l-1.5 .1 -4.5-1.6 -4.2-.8 -.9-1.5 .5-3 1.6-2 3-1.4 3 .2 3 1.5 2 1.7 .8 1.5 0 1.5 -1.3 2.6 -1.5 1.2zM334.0 598.6l-4.5-.2 -4.5-1.6 -9-.5 -3-2.4 -3-1.5 -2.9-2.9 -1.6-3.1 2.3-4.4 3.2-4.5 2-4.5 0-2.1 1.5-.9 1.7 4.5 3.9 3 3.1 4.5 1.8 .9 4.5 1.3 4.5-.6 7.5 1.7 3-.4 3-1.9 1.5-.1 1.5 .9 .7 1.2 -.7 2.5 -1.5 1 -3 .6 -4.5 2.4 -1.5 1.3 -1.8 4.2 -4.2 1.6zM287.5 584.1l-1.5-.7 -.9-1.4 -.1-1.5 1-1.1 1.5 .1 1.1 1 .3 1.5 -1.4 2.1zM350.5 612.6l-4.5 .1 -1.5-.5 -1.5-1.6 -2.6-7.6 0-4.5 5-3 2.1-1.9 3-.3 3-1.9 1.5-.3 4.5-.3 1.4 1.7 -1.4 6 0 2.7 2.5-1.2 2 .2 1 1.3 -.6 1.5 -1.9 1.1 -1.5 0 -1.2-1.1 -.3-1.3 -6 6.3 -3 4.6zM398.5 595.6l-1.6-.1 -1.6-1.5 .2-2.5 1.5-.9 2.2 .4 1.1 1.5 .4 1.5 -2.2 1.6zM437.5 647.1l-2.8-.6 -1-1.5 -.4-6 -1.2-3 -7.3-6 -4.4-4.5 -.9-3 .1-1.5 1.4-1 6-1.6 6-.5 3.5 1.6 2.8 3 2.2 4.5 .3 3 -.4 3 2.1 4.5 -.2 1.5 -4.3 7 -1.5 1.1zM377.5 733.2l-1.5 .3 -1.5-.6 -2.5-2.4 0-3 1-2.5 1.5-.5 1.5 .6 3.1 2.4 -.6 4.5 -1 1.2zM371.5 797.1l-4.5-.2 -3-1.9 -1.5-1.9 -.9-2.6 .2-1.5 3.3-4.5 .1-1.5 -1.2-1 -7.5-3.1 -2.3-4.9 -2.2-2.4 -9-7.4 -5.2-2.2 -2.7-3 -1-1.5 -.2-1.5 1.8-4.5 -1.2-3 -2.3-3 -.7-3 1-.4 1.5 .7 2.6 2.7 4.9 .9 3.1 3.6 3.7 3 2.2 3 3 1.1 1.9 3.4 .2 6 .9 .9 5.2 2.1 6.8 5.7 2 3.3 7.7 9 .5 1.5 -.1 1.5 -1 1.5 -4.6 4.4 -1.5 .7zM322.0 288.5l-1.5 .1 -1.5-1 -3.6-4.1 -.6-1.5 .3-3 1.4-3 1.7-1.5 2.3-.7 3.2 .7 1.4 1.5 .8 3 -.2 6 -.7 1.5 -3 2zM281.5 436.5l-1.5-.2 -1.2-1.3 1.2-2.2 3-2.2 0-1.6 -.4-1.5 -3.2-3 .2-1.5 .4-.7 1.5 .3 1.5 1.5 1.5 .1 3-1 1.2-1.7 1.6-4.5 -.2-1.5 -1.1-.9 -3-.1 -2.4 1 -2.1 3.9 -1.2-.9 1-7.5 .9-1.5 5.3-4.6 4.6-2.9 2.3-4.5 2.1-2.6 1-3.4 2-3 2.5-6 3.5-4.4 3.9-3.1 5.2-10.5 1.4-1.6 3-1.8 3-4.1 .9-7.5 7.4-16.5 .6-4.5 -.6-6 1.1-3 2.6-1.4 3-.5 1.3-1.1 2-6 2.7-1.7 4.5-.6 4.5 .7 3-.4 6 .4 10.5-2.3 10.5-.8 6-1.8 4.5-5.2 3-1.8 6-.2 2.8 1.7 4.6 6 .7 6 -.6 2.4 -2.4 2.1 -8.1 3 -1.1 1.5 -.2 4.5 -1.4 3 -3.3 3 -4.5 2.1 -1.1 .9 -.6 1.5 .6 12 4.8 6 .4 6 .8 3 -.3 1.5 -1.6 1.5 -4.5 1.6 -4.5 2.9 -.5 3 2 2.9 3.3 1.6 2.9 9 .3 3 -.5 1.8 -4.7 4.2 -3.3 6 -3.6 4.5 -7.9 6.9 -1.5 .4 -1.5-1 -.9-1.8 -2.1-7.5 .2-1.5 1.9-3 -.4-3 4.9-12 .1-1.5 -1.2-3 0-1.5 .7-4.5 1.4-3 .5-3 -.6-4.4 -1.5-1.9 -6 4.8 -2 6 -2.7 1.5 -1.5 3 -1.8 1.5 -2.5 3.4 -3 2.2 -6 .1 -3 1.8 -1.5 3.9 -2.3 3.6 .4 4.5 3 7.5 4 4.5 -.6 1.7 -4.5 2.6 -5.3 4.7 -3 4.5 -5.2 2.4 -6 .9 -4.5-.6 -1.5-1.2 -1.5-9.2 -4.5-3.6 -4.5-.4 -5.4 5.7 -1.1 7.5 -3.7 4.5 -1.8 4.9 -1.6 1.1 -4.4 .3 -1.5 .7 -1.5 1.6 -1.5 .4zM352.0 393.4l-4.3-4.9 -.3-1.5 1.6-1.7 3-.9 1.5 .9 .4 1.7 -.4 5.5 -1.5 .9zM331.4 391.5l1.5-1.5 .3-1.5 -.7-1.5 -3-.2 -1.8 1.7 -.5 1.5 .3 1.5 2 .8 1.9-.8zM311.5 561.4l-1.5-1 -1-2.4 .5-6 -1.3-6 3.3-7.5 .9-7.5 -.5-7.5 -1.8-7.5 -2.9-7.5 .2-7.5 -.4-2.7 -8-10.8 .8-4.5 -2.8-4.5 .1-3 .9-2 1.5-1.1 4.6 .1 1.4 1.5 .2 3 -.6 1.5 -1.7 1.5 3.6 .5 4.5 3 2.4 4 -.2 4.5 2.3 2.2 4.5 6.8 3 2.1 1.5 0 1.8-2.1 5.1-12 4.2-4.5 4.5-7.5 1.2-3 1.2-1.6 1.5-.8 1.5-.4 1.5 .4 1.5 1.9 .1 2 -1.3 7.5 -1.7 3 -.2 7.5 -1.2 3 -3.2 5.1 -4.6 3.9 .2 4.5 -3.5 18 -1.7 3 -7.8 9 -.2 6 -3.4 7.5 -9 7.9zM301.0 567.5l-1.5 .3 -1.5-.5 -4.5-2.7 -.5-.6 .9-1.5 2.6-1.5 4.5 1.7 1.1 1.3 .2 1.5 -1.3 2zM335.5 595.7l-3 1.2 -1.5 0 -7.5-1.9 -4.5-3.2 -3 .2 -4.8-1 -1.9-1.5 -.6-1.5 .2-3 1.2-3 2.9-4.4 1.5-.8 4.5 2.1 3 4.5 3 1.7 4.5 1.1 4.5-.5 3.5 .8 2 1.5 .4 1.5 -2.9 4.9 -1.5 1.3zM347.5 609.5l-1.5 .3 -1.5-.6 -.8-1.7 -1-3 .3-4.7 1-1.3 3.5-2.1 4.5-.1 1.5-.6 1.8-1.7 2.1 0 .6 1.8 -3.2 5.7 -2.8 2.3 -1.9 3.7 -2.6 2zM434.5 634.1l-4.5-2 -4.5-3.3 -3.4-3.3 -.7-3 2.6-1.9 6-1.1 3 .3 3 1.5 1.5 1.7 .8 2.5 -2.3 3 -.6 4.5 -.9 1.1zM439.0 642.5l-1.5 .9 -1.5-.8 -1.3-6.6 .2-1.5 1.1-1 3 .7 2.3 3.3 0 1.5 -2.3 3.5zM350.5 764.0l-3.1-.5 -2.9-2.8 -3 .1 -1.5-.5 -1.8-2.8 0-1.5 1.8-2.7 1.5-.6 1.5 1.6 1.7 4.7 1.3 1 3-.8 3 .9 .7 1.9 -.7 1.2 -1.5 .8zM362.5 776.7l-1.5 .2 -1.4-1.4 0-1.5 1.1-1.5 1.8 .8 1.4 2.2 -1.4 1.2zM370.0 795.0l-1.5 .1 -1.5-.8 -1.9-2.3 -.4-1.5 .6-1.5 3.2-3.1 3-.7 1.5 .9 .8 1.4 -.2 1.5 -2.2 4.5 -1.4 1.5zM322.0 286.6l-1.5 0 -1.5-1 -2.7-3.6 .7-4.5 1.2-1.5 2.3-.9 2.5 .9 1.3 3 .2 4.5 -1 2 -1.5 1.1zM320.5 423.0l-3.1-1.5 -1.4-3 -.3-4.5 -.8-1.5 -1.9-1.9 -3-1.9 -3-.6 -4.5 .1 -3 4.5 -4.5 1.1 -1.5 1 -4.5-2.4 -3-.4 -1.6-1 .4-1.5 1.4-1.5 1.8-1.5 4-2 2.6-2.5 3.2-6 .6-3 2.4-4.5 1.7-5 3.4-4 4.1-3.3 3.3-7.2 2.7-4.2 1.5-1.3 3-.8 .8-1.2 2.7-6 -.5-3 .6-3 6.9-15.8 .8-5.2 -.2-6 .5-1.5 6.4-2.9 3-6.9 3-1.7 3-.4 12 .9 12-2.2 14.7-1.8 3.3-1.5 2.9-4.5 3.1-2 4.5-.4 2.7 .9 4.7 6 .8 6 -.3 1.5 -3.4 3 -7.5 2.5 -1 2 .1 4.5 -1.2 3 -2.4 2.2 -5.9 2.3 -1.4 3 .3 12 4 4.7 .9 2.8 -.6 3 -1.6 3 .2 1.5 -.7 1.5 -6.4 4.5 -.9 1.5 -.4 3 2 3.8 1.5 1.6 1.5 .8 1.5 2.1 1.9 8.2 -.4 1.5 -3.5 3 -4.5 7.5 -4 4.1 -4 1.9 -2 2.1 -1.7-.6 .3-3 -1.2-3 1.3-4.5 -.8-3 .1-1.5 1.7-6 2.5-4.5 -.8-9 1.7-6 .2-6 1.2-1.8 7.5-2.8 1.7-1.4 .3-1.5 -2-1.5 -1.5 .2 -3 1.7 -3 .4 -1.5 1.3 -4.5 2.2 -4.6 4.7 -4.5 6 -3.1 3 -4.3 7 -3 1.2 -3-1 -1.5 .5 -6 5.3 -3 .6 -4.5-.7 -1.5 .3 -3.4 3.3 -.7 3 1.1 1.7 3 1.1 4.5-.7 1.5 .8 5.3 12.1 .1 1.5 -10.6 12 -3.8 2 -6 1zM289.0 431.8l-1.5-.1 -1.5-1.1 -.6-3.1 .9-1.5 3.7-3 1.4-4.5 2.1-2.3 2.2 2.3 .1 1.5 -2.9 4.5 -2.4 5.7 -1.5 1.6zM299.5 478.9l-.9-1.9 .7-1.5 1.7-.4 .9 .4 -.9 2.4 -1.5 1zM313.0 556.9l-1.5 .1 -.3-.5 .1-3 -1.5-6 .2-2.3 3.2-6.7 .4-7.5 -2.1-13.5 -3.2-9 .9-10.5 .8-1.4 3 1 3 .1 6 5.8 1.5 .8 2.5-.3 1.4-1.5 5.1-12.7 6-6.6 1.5-.9 1.5 .5 1.6 1.7 1.4 2.5 .8 5 -1.3 3 -3.2 3 -1 3 -4 3 -.7 1.5 1.1 4.5 -1.3 4.5 .2 4.5 -1.8 7.5 -2.3 3.8 -4.5 4.2 -3.3 4 -.7 1.5 .2 6 -3.7 6.9 -6 4zM308.5 493.1l-3-.6 -1.5-1.2 -3-5.3 1.5-2.1 3-.7 3 .2 3 2.6 .3 1.5 -.3 1.5 -1.5 3 -1.5 1.1zM314.5 588.2l-1.5 .6 -1.5-.4 -.3-3.4 1.8-3.8 1.5-.8 1.5 .1 1.5 1.1 .3 1.9 -3.3 4.7zM334.0 594.2l-3 .6 -3-1.3 -3-.1 -1.8-.9 -.8-1.5 0-1.5 1.1-1.1 3-.7 4.5 1 4.5-.1 1.4 .9 -.2 1.5 -2.7 3.2zM347.5 604.1l-1.5 0 -.6-1.1 -.4-1.5 .4-1.5 2.1-1.5 2.1 0 1 1.5 -3.1 4.1zM431.5 629.4l-1.5 0 -1.5-.7 -4.2-3.2 -1-1.5 .4-1.5 1.8-.7 4.5 .7 2.4 3 -.9 3.9zM322.0 284.3l-1.5 .4 -1.5-.9 -1-1.8 1-4.5 1.5-.6 1.5 1.3 .6 2.3 .3 1.5 -.9 2.3zM325.0 420.1l-3 .5 -1.8-.6 -.2-1.5 .6-1.5 2.1-1.5 .3-3 -1-2.2 -.2 .7 -1.3 .5 -1.5 .2 -1.3-.7 -.8-1.5 .2-3 -1.1-.4 -13.5 .6 -2.5 1.3 -2 3 -3-.5 -3 .7 -1.3-1.7 1.3-1 2.3-3.5 2.6-1.5 2.3-6 .8-4.5 1.6-3 2-6 3.4-4 4.2-3.5 1.8-4.6 3-5.2 1.5-1.5 3-1 1.7-1.2 3.2-7.5 -.6-3 .5-3 6.2-15 1.6-12 5.4-3.2 1.5-2 2.3-5.3 2.2-1.5 3-.6 12 1 28.5-3.9 1.7-1 2.4-4.5 1.9-1.9 3-1.1 4.5 .4 1.3 1.1 2.7 4.5 1 6 -.3 1.5 -1.7 1.7 -8.4 2.8 -1.4 3 .4 4.5 -1.1 3 -3 2.1 -4.5 1.4 -1.5 1.8 -.6 2.2 -.2 10.5 1.1 4.5 -.3 .9 -9 .2 -4.5 4.3 -3.8 2.1 -2.2 3 -10.3 10.5 -2.4 3 -1 3 -1.3 1.6 -1.5 .3 -3-1 -1.5 0 -6 5.3 -3 1 -4.5-.2 -1.5 .4 -2.2 1.6 -2.6 3 -.9 3 .4 1.5 2.3 2.3 1.5 .5 6 .4 3 4.3 1.4 6 -1.4 3.4 -1.5 1.5 -2.2 1.1 -3.8 5.4 -4.5 2.2zM376.0 402.3l-1.5 .9 -1.8-1.2 -3.2-9 1.4-6 2.8-4.5 -1-10.5 2.4-9 .9-1.5 2.6-1.5 4.9-1.1 1.1 1.1 -.4 3 -1.1 1.5 -2.6 1.4 -1.1 1.6 -.8 4.5 2 6 3.8 3 1.1 1.5 1.3 6 -.6 1.5 -3.4 3 -3.8 6.7 -3 2.6zM320.0 400.5l1.3-1.5 -.3-1.5 -.5-.5 -1.5 .1 -1.5 1.9 0 1.6 1.5 .7 1-.8zM332.9 409.5l-.2-1.5 -.9-1.5 -2.3-.7 -1.4 .7 .3 1.5 2.6 2.4 1.5 .4 .4-1.3zM308.5 489.2l-1.5 .8 -1.5-.5 -1.4-3.5 1.4-.7 3 .6 .7 1.6 -.7 1.7zM314.5 552.3l-1.5-1.7 -.2-1.6 .7-6 1.8-4.5 -.9-3 .6-6 -5.6-22.5 1-6 1.1-1 3-.1 7.5 4.7 3 .8 1.5-.4 1.6-1 5.3-13.5 5.1-5.3 1.5-.7 1.5 .8 1.8 2.2 1.2 3 -.2 1.5 -1.3 2.4 -4.3 2.1 -.6 3 -3.4 3 -.7 1.5 -.4 1.5 1.5 4.5 -1.1 4.5 .5 4.5 -2 7.3 -1.5 2.4 -5.9 5.3 -1.6 2.3 -2.4 2.2 -.1 7.5 -.5 1.3 -3 3.8 -3 1.2zM307.0 405.2l-6 .2 -1-.4 -.5-1.5 .6-3 1.9-1.5 .6-1.5 -1.1-3 2.7-9 3.3-4.5 4.1-3 1-1.5 1.4-4.5 2.6-4.5 2.4-1.7 3-1.1 1.4-1.7 3.3-7.5 -.4-3 .2-2.6 5.3-13.9 2.2-12 1-1.5 5-3.7 3-6.1 1.5-1.1 3-.8 12 1 6-.6 6-1.3 4.5-.2 6-1.5 6 .2 1.5-.5 1.5-1.6 2-4.8 1.7-1.5 3.8-.8 2.9 .8 2.8 6 .3 4.8 -.9 1.2 -2.6 1.5 -4.6 1.5 -2.3 1.5 -.7 3 .6 4.5 -1.2 3 -1.8 1.1 -4.5 1.3 -1.9 2.1 -1 3 -.3 9 -1.2 4.5 -6.1 .8 -1.5 .7 -4.2 4.5 -3.3 1.6 -3 4.5 -4.5 3.5 -5.2 5.4 -5.3 7.4 -4.5-.8 -1.5 .3 -3.2 3.6 -2.8 2.1 -1.5 .5 -4.5 .1 -3.9 1.8 -3.6 4 -2.3 5 -3.7 3 -3 7.5 -1.5 1 -6 .7zM376.0 375.8l-1.5-1.9 -.4-1.9 1.9-5.6 1.5-.7 -.7 9.3 -.8 .8zM377.5 399.2l-1.5 .7 -1.5-.4 -3-5 -.3-1.5 .9-6 3.9-5.7 1.5-.5 3 .6 2.2 1.1 1.1 1.5 .1 1.5 -.6 1.5 -2.7 1.5 .3 4.5 -3.4 6.2zM335.5 405.5l-6.2-2 -1.2-1.5 .9-1.5 2-1.7 1.5-.4 1.5 .3 1.5 1.6 .5 1.7 -.5 3.5zM341.5 493.6l-6-.7 -.4-.9 .2-1.5 3.2-3.5 1.5-.6 1.7 1.1 1.6 3 -.3 1.7 -1.5 1.4zM335.5 498.6l-1.5 .8 -1.5-.1 0-2.8 1.5-1.6 1.5 1 .4 2.1 -.4 .6zM322.0 535.8l-3 .7 -1.5-.2 -1.5-1.3 .4-5.5 -2.9-9 -2.4-15 .4-1.5 1.5-1.6 4.5 .8 6 3 3 0 2.8-.7 1.3-1.5 .4-2 .7 .5 -.3 3 2.5 4.5 -1 3 .9 6 -2.8 8.1 -6.2 5.4 -2.8 3.3zM308.5 403.5l-6 .4 -.9-.4 0-1.5 2.4-1.6 .9-1.4 -.6-6 1.2-5.9 3-5.4 5.4-3.7 .6-4.5 2-4.5 2.5-2.1 3-1.2 2.4-2.7 1-3 2.6-4.5 .2-6 4-12 2.4-12 .9-1.9 4.8-4.1 2.7-5.4 1.5-1.5 3-.9 12 1 6-.4 6-1.5 4.5-.2 6-1.6 7.5 .8 2-2.3 2.5-6 3-1.6 3 .4 1.2 1.2 .5 1.5 1.1 4.5 -.2 1.5 -2.6 3.1 -7.1 2.9 -1.3 1.5 1.2 6 -.3 3 -1.5 1.4 -3 .2 -1.5 1 -2.6 3.4 -1 3 -.7 9 -1.7 3 -4.5 .9 -3 1.5 -1.5 1.2 -1.7 2.4 -4.3 2.5 -3 4.9 -4.5 2.6 -7.5 7.7 -1.6 3.3 -1.4 1.2 -4.5-1.3 -1.5 1 -2.4 3.6 -2.1 1.7 -12.4 2.8 -1.1 1.2 -1.5 4.8 -1.5 2.8 -4.6 4.7 -2.3 6 -2.1 1.3 -3 .2zM377.5 395.0l-1.5 .8 -1.5-.5 -1.4-2.3 .5-6 2.4-2.8 1.5-.9 2.4 .7 .3 1.5 -1.7 3 0 4.5 -1 2zM320.5 534.5l-2.5-.5 -.4-4.5 -3.7-10.5 -.8-12 .8-1.5 2.1-.7 1.5 .1 6 2.4 6 .1 1.5 .5 1.5 2.1 -.9 3 1.6 4.5 -.1 1.5 -2.1 6.2 -3 3.5 -7.5 5.8zM397.0 312.4l-3 .9 -2.4-1.3 -.1-1.5 2.5-7.5 1.1-1.5 1.9-.8 1.5 .1 1.4 .7 .6 1.5 .3 4.5 -1.2 3 -2.6 1.9zM313.0 400.5l-1.5 1.1 -1.5 .2 -1.5-.3 -1.3-1 -1.2-7.5 .5-3 3.5-7.5 7-3 1.4-1.5 .6-1.9 -2.6-2.6 .4-3 .8-1.5 4.4-2.2 2.5-2.3 2-4.8 2.7-4.2 1.9-12 1.6-4.5 2.8-13.3 1.1-1.7 4.6-4.5 2.1-4.5 1.2-1.3 3-1 18 .7 6-1.7 4.5-.2 6-1.7 3 .4 3.7 1.8 2.5 9 .3 3 -.5 .9 -3 .5 -1.5 1 -3.2 5.1 -1.1 3 -1.7 9.4 -9.2 4.1 -2.8 3.5 -3 1.8 -3 4.5 -1.5 1.2 -4.5 1.7 -1.6 2.3 -6.6 6 -1.2 3 -1.1 .1 -3-1.2 -3.7 2.6 -1.6 3 -2.3 1.5 -7.4 2.2 -4.5-.8 -1.5 1 -1.7 2.1 1 3 -.4 3 -1.9 2.8 -3.8 3.2 -2.2 6zM322.0 531.4l-1.5 .8 -1.1-1.2 -4.5-10.5 -.5-3 .1-7.5 .2-1.5 1.3-1.7 3-.1 4.5 1.8 6 .8 .8 .7 -.3 3 .3 1.5 2.1 3 -1 4.5 -1.9 3.8 -3 2.9 -4.5 2.7zM397.0 310.9l-1.5 .8 -1.5 0 -.7-1.2 1.8-7.5 1.9-1.5 1.5 .5 .6 1 -.6 3 .2 3 -1.7 1.9zM328.0 378.4l-1.5-.2 -2.3-1.7 -2.3-3 -2.9-1 -.6-.5 -.2-1.5 1.1-1.5 4.2-2.1 2.2-2.4 1.6-4.5 2.9-4.5 1.5-6 .6-6 1.1-3 2.7-13.5 .9-1.9 5-5.6 2.3-4.5 1.7-1.1 1.5-.2 18 .9 16.5-3.9 1.5 .1 3 1.7 1.5 2.1 2 7.9 -3.5 2.4 -1.5 2 -3.1 6.1 -.8 4.5 -2.1 4.7 -6-.6 -3-1 -1.5 .9 .3 5 -.4 1.5 -.7 1.5 -6.5 7.5 -5.3 1.5 -.9 .7 -1.5 2.7 -7.5 6.8 -4.5 1.2 -6 2.7 -6 5.3 -1.5 .5zM311.5 399.5l-1.8-.5 -1.9-6 .3-1.5 1.9-4.5 1.2-1.5 3.3-2.7 1.5-.2 1.5 .5 2.4 2.4 .3 1.5 -.4 1.5 -1 1.5 -5.7 4.5 -.4 3 -1.2 2zM325.0 528.4l-3 1 -1.5-.2 -3-4.2 -1.9-4.5 -.5-3 .7-7.5 .8-1.5 .9-.5 2.9 .5 6 3 2 3 2.9 3 -.1 3 -1.1 3 -2.4 3 -2.7 1.9zM331.0 373.8l-1.5 .3 -1.3-.6 -1.7-2.3 -2.1-.7 -.8-1.5 3.8-4.5 .8-4.5 3-4.5 1.9-6 -.1-4.5 1.3-4.5 .7-6 2-7.2 5.8-7.8 1.7-3.4 1.5-1.3 1.5-.1 19.5 .9 6-1.2 7.5-2.6 3 .3 2 1.4 1.3 1.5 1.6 6 -.5 1.5 -2.9 2.8 -.9 1.7 -2.8 6 -1 4.5 -1.3 2.6 -1.5 .6 -7.5-1.2 -2.6 1 -.8 1.5 -.2 6 -3.9 6.1 -1.5 1.5 -10.5 2.6 -.3 .3 .8 1.5 -.4 1.5 -3.3 4.5 -2.8 1.9 -9 2.6 -4.5 3.3zM316.0 390.4l-3 .3 -.6-.7 2-4.5 1.6-.9 1.5 .4 1.6 2 -.5 1.5 -2.6 1.9zM325.0 527.3l-3 .1 -3-1.9 -2.8-5 -.4-4.5 2.2-6 1-.2 6 2.8 4.9 4.9 .5 3 -.9 2.6 -3 3.4 -1.5 .8zM332.5 371.1l-1.5 .7 -1.5-.8 -1-2 -.2-1.5 1.1-3 -.3-3 .4-1.5 2.3-3 2.7-7.5 -.5-4.5 1.1-4.5 .6-6 1.3-4.3 4.1-7.7 2.7-3 1.6-3 2.1-.9 6-.1 9 1.5 9 0 1.5-.2 3.9-3.3 3.6-.9 1.5 .2 3 2 1 1.7 .9 4.5 -3.6 6 -2.6 6 -1.7 5.7 -1.5 .9 -7.5-1 -3 .8 -1.5 2.4 -.9 6.2 -3.6 6.2 -4.5 1.4 -7.4 1.4 -1.1 1.5 -.6 4.5 -1.8 3 -4.1 1.9 -6 .9 -3 2.3zM326.5 525.4l-1.5 .8 -3-.3 -3-1.8 -1.4-2.1 -1.3-4.5 1.2-3.7 1.5-1.6 4.5 .9 6 5.9 -.2 3 -2.8 3.4zM334.0 367.7l-1.5 .4 -.8-.6 -.7-6 1.5-1.7 1-5.8 2.3-3 .3-1.5 -1.2-4.5 1.5-10.5 5.1-11.3 4.5-5.7 1.5-1 7.5-.1 7.5 1.7 4.5-.2 4.5 .7 1.8-.6 2.7-3 3-1.5 3 .4 1.6 1.1 1.1 1.5 .8 4.5 -5.4 12 -1.2 4.5 -1.4 1.1 -9-.9 -2.9 1.3 -.9 1.5 -1 6 -2.7 6 -1.5 1.2 -9.2 1.8 -2.8 1.5 -2.5 3 .5 3 -.3 1.5 -1.3 1.5 -3.9 1.5 -4.5-.3 -1.5 .5zM325.0 525.1l-1.5 .1 -3-1.2 -1.5-1.1 -1.4-2.4 -.6-3 .5-1.9 1.5-1.8 1.5-.4 3 .8 4.8 4.8 .4 1.5 -.3 1.5 -3.4 3.1z"/>
<g stroke="#000" stroke-width="2.25" fill="none" stroke-linejoin="round" stroke-linecap="butt">
<polyline points="485.9,94.0 487.2,106.6 489.2,119.9 488.9,139.9 487.7,156.5 486.4,169.8 479.7,186.4 473.1,199.7 468.1,209.7 459.8,219.6 451.5,225.5 443.2,226.6 437.0,226.4 433.1,224.7 418.3,212.3 415.6,214.7 430.2,227.5 430.0,231.0 432.9,233.9 427.1,241.0 425.3,241.0 408.9,225.2 396.0,212.9 393.1,209.3 389.0,209.3 380.2,216.4 374.9,211.1 382.5,204.1 384.9,204.6 386.1,202.7 398.4,196.8 384.3,201.1 375.5,203.5 372.6,206.4 366.1,204.6 363.8,201.1 359.7,199.1 355.0,199.4 350.0,200.8 338.5,201.9 337.1,205.0 336.5,211.3 331.3,217.5 325.0,222.7 319.8,226.9 316.7,234.2 314.6,240.4 308.6,241.9 302.0,247.5 300.1,250.3 302.0,255.0 297.3,260.6 296.9,269.9 299.2,277.4 297.3,288.7 298.0,293.0 302.6,298.0 302.0,307.4 297.3,313.9 301.1,321.4 293.6,326.1 293.2,333.6 295.5,337.3 292.1,344.8 292.1,354.2 282.4,365.4 265.5,378.5 254.3,387.9 247.7,392.5 245.9,402.8 244.9,411.2 242.1,417.8 238.3,418.7 242.1,422.5 240.2,428.1 234.6,429.6 230.8,437.4 229.0,450.5 226.1,459.0 207.4,464.6 190.6,467.4 199.9,473.9 196.2,484.2 185.9,491.7 188.7,498.3 199.9,502.0 211.2,506.7 218.7,521.7 233.6,531.0 244.9,536.3 252.4,531.0 257.0,521.7 252.4,514.2 257.0,506.7 267.3,503.9 278.6,506.7 282.3,516.0 284.2,527.3 290.7,536.5 291.0,544.4 286.8,553.7 278.4,561.2 269.5,566.3 269.0,572.4 270.0,577.1 266.2,586.0 269.0,588.3 261.5,596.7 264.4,600.5 266.7,608.9 266.7,625.0 266.7,634.9 263.9,653.6 259.3,664.8 252.7,670.4 242.4,670.4 234.0,683.5 230.2,689.1 216.2,695.7 214.3,699.4 218.1,702.2 210.9,709.1 212.8,718.2 223.7,734.6 236.5,752.9 243.7,767.4 248.3,773.8 260.2,772.5 280.2,782.0 294.8,799.3 301.2,825.0"/>
<polyline points="693.5,562.8 684.2,562.8 540.4,596.2 462.0,647.9 434.3,666.0 429.6,679.9 418.4,676.2 400.6,693.0 410.9,704.3 417.4,718.3 404.3,735.2 399.7,754.8 398.7,767.0 404.3,798.8 436.1,805.3 446.4,825.0"/>
<polyline stroke-width="1.6" points="382.5,204.1 389,209.3"/>
<polyline stroke-width="1.6" points="393,211.5 390,213.5 386.6,215.2 407.2,240.6 410.1,242.2 414.2,238.6"/>
<polyline stroke-width="0.8" points="378,210.5 381,207.5 384.5,210.5 381.5,213.5 378,210.5"/>
</g>
<g>
<circle cx="323.5" cy="224.4" r="3.25" fill="#000" stroke="#fff" stroke-width="1.3"/>
<circle cx="344.8" cy="239.0" r="3.25" fill="#000" stroke="#fff" stroke-width="1.3"/>
<circle cx="321.8" cy="280.8" r="3.25" fill="#000" stroke="#fff" stroke-width="1.3"/>
<circle cx="296.4" cy="292.1" r="3.25" fill="#000" stroke="#fff" stroke-width="1.3"/>
<circle cx="427.6" cy="305.1" r="3.25" fill="#000" stroke="#fff" stroke-width="1.3"/>
<circle cx="352.7" cy="326.5" r="3.25" fill="#000" stroke="#fff" stroke-width="1.3"/>
<circle cx="362.5" cy="329.0" r="3.25" fill="#000" stroke="#fff" stroke-width="1.3"/>
<circle cx="369.8" cy="390.4" r="3.25" fill="#000" stroke="#fff" stroke-width="1.3"/>
<circle cx="325.6" cy="520.4" r="3.25" fill="#000" stroke="#fff" stroke-width="1.3"/>
<circle cx="314.8" cy="547.3" r="3.25" fill="#000" stroke="#fff" stroke-width="1.3"/>
<circle cx="313.7" cy="560.4" r="3.25" fill="#000" stroke="#fff" stroke-width="1.3"/>
<circle cx="225.8" cy="696.3" r="3.25" fill="#000" stroke="#fff" stroke-width="1.3"/>
<circle cx="233.6" cy="734.4" r="3.25" fill="#000" stroke="#fff" stroke-width="1.3"/>
<text class="st" x="329.9" y="223.8">SHL: 90.4 %</text>
<text class="st" x="350.8" y="238.5">SHT: 100.0 %</text>
<text class="st" x="327.3" y="281.2">LHT: 100.0 %</text>
<text class="st" x="302.8" y="291.7">LHL: 96.5 %</text>
<text class="st" x="433.8" y="305.0">BTO: 2.1 %</text>
<text class="st" x="358.8" y="325.5">GUT: 99.9 %</text>
<text class="st" x="369.2" y="350.0">TMT: 86.3 %</text>
<text class="st" x="376.3" y="389.7">OHT: 83.5 %</text>
<text class="st" x="332.1" y="520.2">CBT: 100.0 %</text>
<text class="st" x="320.7" y="546.7">FWT: 100.0 %</text>
<text class="st" x="320.2" y="559.8">NHT: 100.0 %</text>
<text class="st" x="231.7" y="695.1">KOL: 98.5 %</text>
<text class="st" x="239.9" y="733.5">KRT: 92.5 %</text>
</g>
</g>
<rect x="80.5" y="94.5" width="613.0" height="730.0" fill="none" stroke="#000" stroke-width="1"/>

<text class="t" x="371" y="21">BL Cloud Cover</text>
<text class="t" x="371.4" y="37">Valid 1700 LST (1500Z) MON 13 Oct 2025 [15hrFcst@0517z]</text>
<text class="t" x="371.7" y="53">FDV replot - DrJack BLIPMAP from RASP 1.3km GFSA-Initiated WRF-ARW model</text>
<text class="yl" x="73.7" y="109.7">33.85°S</text>
<text class="yl" x="73.7" y="212.2">33.9°S</text>
<text class="yl" x="73.7" y="314.8">33.95°S</text>
<text class="yl" x="73.7" y="417.3">34°S</text>
<text class="yl" x="73.7" y="519.9">34.05°S</text>
<text class="yl" x="73.7" y="622.5">34.1°S</text>
<text class="yl" x="73.7" y="725.0">34.15°S</text>
<text class="xl" transform="translate(100.1,833.2) rotate(-90)">18.25°E</text>
<text class="xl" transform="translate(185.2,833.2) rotate(-90)">18.3°E</text>
<text class="xl" transform="translate(270.3,833.2) rotate(-90)">18.35°E</text>
<text class="xl" transform="translate(355.4,833.2) rotate(-90)">18.4°E</text>
<text class="xl" transform="translate(440.5,833.2) rotate(-90)">18.45°E</text>
<text class="xl" transform="translate(525.6,833.2) rotate(-90)">18.5°E</text>
<text class="xl" transform="translate(610.7,833.2) rotate(-90)">18.55°E</text>
<g shape-rendering="crispEdges">
<rect x="14" y="880" width="30" height="30" fill="#0004e8"/>
<rect x="44" y="880" width="30" height="30" fill="#0030e8"/>
<rect x="74" y="880" width="30" height="30" fill="#0070ec"/>
<rect x="104" y="880" width="30" height="30" fill="#00a8ec"/>
<rect x="134" y="880" width="29" height="30" fill="#00d2e8"/>
<rect x="163" y="880" width="30" height="30" fill="#00ded0"/>
<rect x="193" y="880" width="30" height="30" fill="#00d4a0"/>
<rect x="223" y="880" width="30" height="30" fill="#00c46c"/>
<rect x="253" y="880" width="29" height="30" fill="#00b234"/>
<rect x="282" y="880" width="30" height="30" fill="#10ac0c"/>
<rect x="312" y="880" width="30" height="30" fill="#38b404"/>
<rect x="342" y="880" width="30" height="30" fill="#6cc404"/>
<rect x="372" y="880" width="29" height="30" fill="#9cd200"/>
<rect x="401" y="880" width="30" height="30" fill="#cce000"/>
<rect x="431" y="880" width="30" height="30" fill="#e6e000"/>
<rect x="461" y="880" width="30" height="30" fill="#ead200"/>
<rect x="491" y="880" width="29" height="30" fill="#ecbe00"/>
<rect x="520" y="880" width="30" height="30" fill="#ecac00"/>
<rect x="550" y="880" width="30" height="30" fill="#ec9800"/>
<rect x="580" y="880" width="30" height="30" fill="#ec7c00"/>
<rect x="610" y="880" width="29" height="30" fill="#ec5800"/>
<rect x="639" y="880" width="30" height="30" fill="#ea3400"/>
<rect x="669" y="880" width="30" height="30" fill="#e81400"/>
<rect x="699" y="880" width="30" height="30" fill="#de0404"/>
<rect x="729" y="880" width="29" height="30" fill="#c00020"/>
</g>
<rect x="14.5" y="879.5" width="744.0" height="30.0" fill="none" stroke="#000" stroke-width="1"/>
<line x1="14.50" y1="909.5" x2="14.50" y2="914.5" stroke="#000" stroke-width="1"/>
<text class="cb" x="14.70" y="930.1">0</text>
<line x1="44.26" y1="909.5" x2="44.26" y2="912.5" stroke="#000" stroke-width="1"/>
<line x1="74.02" y1="909.5" x2="74.02" y2="914.5" stroke="#000" stroke-width="1"/>
<text class="cb" x="74.22" y="930.1">8</text>
<line x1="103.78" y1="909.5" x2="103.78" y2="912.5" stroke="#000" stroke-width="1"/>
<line x1="133.54" y1="909.5" x2="133.54" y2="914.5" stroke="#000" stroke-width="1"/>
<text class="cb" x="133.74" y="930.1">16</text>
<line x1="163.30" y1="909.5" x2="163.30" y2="912.5" stroke="#000" stroke-width="1"/>
<line x1="193.06" y1="909.5" x2="193.06" y2="914.5" stroke="#000" stroke-width="1"/>
<text class="cb" x="193.26" y="930.1">24</text>
<line x1="222.82" y1="909.5" x2="222.82" y2="912.5" stroke="#000" stroke-width="1"/>
<line x1="252.58" y1="909.5" x2="252.58" y2="914.5" stroke="#000" stroke-width="1"/>
<text class="cb" x="252.78" y="930.1">32</text>
<line x1="282.34" y1="909.5" x2="282.34" y2="912.5" stroke="#000" stroke-width="1"/>
<line x1="312.10" y1="909.5" x2="312.10" y2="914.5" stroke="#000" stroke-width="1"/>
<text class="cb" x="312.30" y="930.1">40</text>
<line x1="341.86" y1="909.5" x2="341.86" y2="912.5" stroke="#000" stroke-width="1"/>
<line x1="371.62" y1="909.5" x2="371.62" y2="914.5" stroke="#000" stroke-width="1"/>
<text class="cb" x="371.82" y="930.1">48</text>
<line x1="401.38" y1="909.5" x2="401.38" y2="912.5" stroke="#000" stroke-width="1"/>
<line x1="431.14" y1="909.5" x2="431.14" y2="914.5" stroke="#000" stroke-width="1"/>
<text class="cb" x="431.34" y="930.1">56</text>
<line x1="460.90" y1="909.5" x2="460.90" y2="912.5" stroke="#000" stroke-width="1"/>
<line x1="490.66" y1="909.5" x2="490.66" y2="914.5" stroke="#000" stroke-width="1"/>
<text class="cb" x="490.86" y="930.1">64</text>
<line x1="520.42" y1="909.5" x2="520.42" y2="912.5" stroke="#000" stroke-width="1"/>
<line x1="550.18" y1="909.5" x2="550.18" y2="914.5" stroke="#000" stroke-width="1"/>
<text class="cb" x="550.38" y="930.1">72</text>
<line x1="579.94" y1="909.5" x2="579.94" y2="912.5" stroke="#000" stroke-width="1"/>
<line x1="609.70" y1="909.5" x2="609.70" y2="914.5" stroke="#000" stroke-width="1"/>
<text class="cb" x="609.90" y="930.1">80</text>
<line x1="639.46" y1="909.5" x2="639.46" y2="912.5" stroke="#000" stroke-width="1"/>
<line x1="669.22" y1="909.5" x2="669.22" y2="914.5" stroke="#000" stroke-width="1"/>
<text class="cb" x="669.42" y="930.1">88</text>
<line x1="698.98" y1="909.5" x2="698.98" y2="912.5" stroke="#000" stroke-width="1"/>
<line x1="728.74" y1="909.5" x2="728.74" y2="914.5" stroke="#000" stroke-width="1"/>
<text class="cb" x="728.94" y="930.1">96</text>
<line x1="758.50" y1="909.5" x2="758.50" y2="912.5" stroke="#000" stroke-width="1"/>
<text class="cb" x="386" y="949">blcloudpct [%]</text>
</svg></body></html>
